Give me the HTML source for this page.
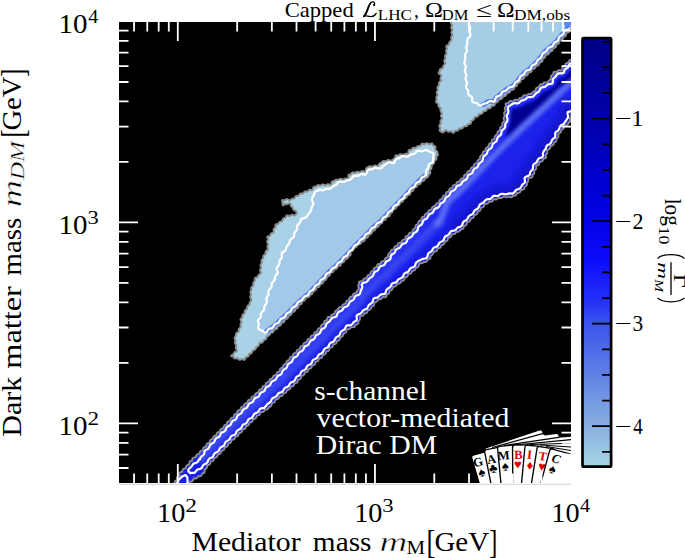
<!DOCTYPE html>
<html><head><meta charset="utf-8"><style>html,body{margin:0;padding:0;background:#fff;}svg{display:block;}</style></head><body>
<svg width="685" height="558" viewBox="0 0 685 558">
<defs>
<clipPath id="pc"><rect x="119" y="22" width="452" height="461"/></clipPath>
<filter id="bl" x="-20%" y="-20%" width="140%" height="140%"><feGaussianBlur stdDeviation="3"/></filter><filter id="bl2" x="-20%" y="-20%" width="140%" height="140%"><feGaussianBlur stdDeviation="2"/></filter><filter id="bl3" x="-20%" y="-20%" width="140%" height="140%"><feGaussianBlur stdDeviation="1.2"/></filter>
<linearGradient id="cb" x1="0" y1="0" x2="0" y2="1"><stop offset="0" stop-color="#000087"/><stop offset="0.188" stop-color="#0000a8"/><stop offset="0.308" stop-color="#0000c8"/><stop offset="0.427" stop-color="#0202e8"/><stop offset="0.517" stop-color="#0c0cfc"/><stop offset="0.611" stop-color="#2330f6"/><stop offset="0.664" stop-color="#3a52ee"/><stop offset="0.774" stop-color="#5c7ee4"/><stop offset="0.904" stop-color="#88aee0"/><stop offset="1" stop-color="#a8d6e4"/></linearGradient>
</defs>
<rect width="685" height="558" fill="#fff"/>
<rect x="119" y="22" width="452" height="461" fill="#000"/>
<path d="M117.5 484.4H571.2" stroke="#dcdcdc" stroke-width="1.1"/>
<g clip-path="url(#pc)">
<defs><path id="urcp" d="M452.0 10.0 L451.4 10.8 L450.9 11.6 L450.7 12.4 L450.8 13.2 L451.2 14.0 L451.8 14.8 L451.5 15.6 L451.0 16.4 L450.7 17.2 L450.8 18.0 L451.1 18.8 L451.7 19.6 L451.7 20.4 L451.1 21.2 L450.8 22.0 L450.8 22.8 L451.1 23.6 L451.7 24.3 L452.2 25.0 L451.7 25.9 L451.3 26.8 L451.2 27.6 L451.5 28.4 L452.0 29.1 L452.6 29.9 L452.1 30.7 L451.6 31.6 L451.4 32.4 L451.5 33.2 L451.9 34.0 L452.5 34.8 L452.2 35.6 L451.7 36.4 L451.2 37.1 L451.1 37.9 L451.2 38.8 L451.5 39.7 L451.3 40.5 L450.5 41.1 L449.9 41.8 L449.3 42.4 L449.1 43.1 L449.0 44.1 L448.7 44.9 L447.8 45.2 L446.9 45.5 L446.3 46.1 L446.2 46.8 L446.6 47.6 L447.3 48.4 L446.7 49.2 L446.2 50.0 L446.0 50.8 L446.1 51.6 L446.3 52.5 L446.7 53.4 L446.3 54.1 L445.6 54.8 L445.1 55.5 L445.0 56.3 L445.1 57.1 L445.5 58.0 L445.4 58.8 L444.7 59.4 L444.3 60.2 L444.2 61.0 L444.4 61.8 L444.9 62.6 L445.3 63.4 L444.6 64.2 L444.2 65.0 L443.6 65.6 L443.2 66.3 L442.9 67.2 L442.8 68.2 L442.0 68.5 L441.1 68.7 L440.3 69.1 L439.8 69.8 L439.7 70.5 L439.8 71.5 L439.3 72.1 L438.6 72.2 L438.7 73.1 L439.1 73.8 L439.8 74.3 L440.7 74.7 L441.3 75.3 L441.2 76.3 L440.8 77.3 L440.5 78.1 L440.5 78.9 L440.8 79.8 L441.1 80.9 L440.2 81.4 L439.5 82.0 L439.0 82.6 L438.8 83.4 L438.9 84.3 L439.1 85.3 L438.6 85.8 L437.9 86.4 L437.5 87.2 L437.4 88.0 L437.5 88.8 L437.9 89.7 L437.8 90.5 L437.2 91.1 L436.8 91.9 L436.7 92.7 L437.0 93.5 L437.4 94.3 L437.7 95.1 L437.1 95.9 L436.6 96.7 L436.4 97.5 L436.3 98.3 L436.6 99.2 L436.9 100.1 L436.1 100.7 L435.9 101.1 L436.1 101.9 L436.6 102.6 L437.3 103.1 L438.2 103.5 L438.4 104.3 L438.3 105.3 L438.4 106.1 L438.8 106.8 L439.4 107.4 L440.3 107.9 L440.7 108.7 L440.4 109.6 L440.4 110.5 L440.7 111.2 L441.1 112.0 L441.6 112.8 L442.1 113.6 L441.5 114.4 L441.1 115.2 L441.0 116.0 L441.2 116.8 L441.7 117.6 L442.3 118.4 L441.7 119.4 L441.0 120.0 L440.5 120.7 L440.4 121.5 L440.6 122.4 L440.9 123.4 L440.5 124.1 L439.8 124.7 L439.3 125.4 L439.3 126.2 L439.7 127.0 L440.2 127.8 L440.3 128.6 L439.8 129.4 L439.4 130.1 L439.8 130.8 L440.5 131.3 L441.4 131.6 L442.2 132.0 L441.6 132.2 L442.6 132.3 L443.4 132.2 L444.1 131.8 L444.7 131.1 L445.2 130.3 L446.5 130.4 L447.2 131.1 L447.9 131.6 L448.7 131.7 L449.6 131.6 L450.5 131.2 L451.3 131.3 L451.9 132.1 L452.6 132.6 L453.4 132.9 L454.0 132.6 L454.4 131.7 L454.8 130.8 L455.8 130.9 L456.7 130.9 L457.5 130.7 L458.2 130.2 L458.7 129.4 L459.1 128.5 L460.0 128.5 L461.0 128.7 L461.8 128.5 L462.5 128.1 L463.0 127.4 L463.5 126.5 L464.2 126.3 L465.2 126.4 L466.1 126.3 L466.8 126.0 L467.4 125.3 L467.8 124.5 L468.5 123.9 L469.4 124.1 L470.2 124.0 L470.7 123.4 L471.1 122.7 L471.2 121.7 L471.2 120.8 L472.2 120.5 L473.0 120.1 L473.7 119.6 L474.0 118.9 L474.4 118.0 L474.8 117.1 L475.6 116.9 L476.6 116.9 L477.4 116.6 L478.0 116.1 L478.5 115.4 L478.8 114.5 L479.5 114.0 L480.5 114.0 L481.3 113.9 L482.0 113.4 L482.5 112.8 L482.9 111.9 L483.4 111.2 L484.4 111.3 L485.3 111.1 L486.0 110.8 L486.5 110.2 L486.9 109.3 L487.3 108.4 L488.3 108.5 L489.2 108.4 L490.0 108.2 L490.6 107.7 L491.1 106.9 L491.4 105.9 L492.3 105.8 L493.3 105.8 L494.0 105.6 L494.5 105.0 L494.9 104.1 L495.0 103.2 L495.6 102.6 L496.6 102.5 L497.4 102.1 L498.0 101.6 L498.3 100.8 L498.7 99.9 L499.2 99.2 L500.2 99.2 L501.1 99.1 L501.8 98.7 L502.3 98.0 L502.7 97.2 L502.9 96.3 L503.9 96.3 L504.8 96.1 L505.5 95.7 L506.1 95.1 L506.4 94.3 L506.6 93.3 L507.4 93.0 L508.4 92.9 L509.2 92.6 L509.8 92.1 L510.2 91.3 L510.5 90.4 L511.2 89.9 L512.1 89.9 L513.0 89.7 L513.7 89.2 L514.1 88.5 L514.2 87.6 L514.5 86.8 L515.4 86.6 L516.3 86.2 L516.9 85.7 L517.2 84.9 L517.4 84.0 L517.5 83.0 L518.5 82.8 L519.4 82.5 L520.0 82.1 L520.5 81.4 L520.7 80.5 L520.9 79.5 L521.7 79.2 L522.6 79.0 L523.4 78.7 L524.0 78.1 L524.3 77.3 L524.5 76.3 L525.1 75.8 L526.1 75.7 L526.9 75.4 L527.5 74.9 L528.0 74.2 L528.2 73.2 L528.6 72.5 L529.6 72.4 L530.5 72.2 L531.2 71.7 L531.6 71.0 L531.9 70.2 L532.1 69.2 L533.1 69.1 L534.0 68.9 L534.7 68.5 L535.2 67.9 L535.6 67.1 L535.8 66.1 L536.6 65.8 L537.5 65.6 L538.3 65.3 L538.8 64.7 L539.1 63.9 L539.3 62.9 L539.9 62.4 L540.8 62.2 L541.6 61.9 L542.2 61.3 L542.6 60.6 L542.5 59.7 L542.7 58.9 L543.6 58.5 L544.4 58.0 L544.9 57.4 L545.3 56.7 L545.6 55.8 L545.8 54.8 L546.8 54.7 L547.7 54.5 L548.5 54.2 L549.0 53.5 L549.3 52.7 L549.5 51.7 L550.3 51.5 L551.2 51.3 L552.0 50.9 L552.5 50.3 L552.9 49.5 L553.0 48.5 L553.6 48.0 L554.6 47.8 L555.4 47.5 L555.9 47.0 L556.2 46.2 L556.3 45.2 L556.5 44.4 L557.5 44.1 L558.3 43.7 L558.9 43.2 L559.2 42.4 L559.4 41.4 L559.5 40.4 L560.6 40.3 L561.5 40.1 L562.2 39.7 L562.7 39.0 L562.9 38.2 L563.1 37.2 L563.7 36.9 L564.6 36.6 L565.4 36.1 L565.8 35.4 L566.0 34.6 L566.1 33.6 L566.6 33.0 L567.6 32.7 L568.4 32.4 L569.0 31.9 L569.4 31.2 L569.7 30.2 L570.1 29.4 L571.1 29.4 L572.0 29.2 L572.7 28.8 L573.1 28.1 L573.5 27.2 L573.7 26.2 L574.7 26.2 L575.6 26.1 L576.3 25.7 L576.8 25.0 L577.1 24.2 L577.2 23.2 L578.0 22.8 L578.9 22.6 L579.7 22.3 L580.0 21.6 L579.6 20.8 L579.1 20.0 L579.0 19.2 L579.6 18.4 L579.9 17.6 L580.0 16.8 L579.7 16.0 L579.2 15.2 L578.8 14.4 L579.4 13.6 L579.9 12.8 L580.0 12.0 L579.8 11.2 L579.4 10.4 L579.6 11.1 L578.8 10.9 L578.0 10.4 L577.2 10.0 L576.4 10.0 L575.6 10.4 L574.8 10.9 L574.0 11.1 L573.2 10.5 L572.4 10.1 L571.6 10.0 L570.8 10.2 L570.0 10.7 L569.2 11.2 L568.4 10.6 L567.6 10.2 L566.8 10.0 L566.0 10.2 L565.2 10.6 L564.4 11.2 L563.6 10.7 L562.8 10.2 L562.0 10.0 L561.2 10.1 L560.4 10.5 L559.6 11.1 L558.8 10.9 L558.0 10.4 L557.2 10.0 L556.4 10.0 L555.6 10.4 L554.8 10.9 L554.0 11.1 L553.2 10.5 L552.4 10.1 L551.6 10.0 L550.8 10.2 L550.0 10.7 L549.2 11.2 L548.4 10.6 L547.6 10.2 L546.8 10.0 L546.0 10.2 L545.2 10.6 L544.4 11.2 L543.6 10.7 L542.8 10.2 L542.0 10.0 L541.2 10.1 L540.4 10.5 L539.6 11.1 L538.8 10.9 L538.0 10.4 L537.2 10.0 L536.4 10.0 L535.6 10.4 L534.8 10.9 L534.0 11.1 L533.2 10.5 L532.4 10.1 L531.6 10.0 L530.8 10.2 L530.0 10.7 L529.2 11.2 L528.4 10.6 L527.6 10.2 L526.8 10.0 L526.0 10.2 L525.2 10.6 L524.4 11.2 L523.6 10.7 L522.8 10.2 L522.0 10.0 L521.2 10.1 L520.4 10.5 L519.6 11.1 L518.8 10.9 L518.0 10.4 L517.2 10.0 L516.4 10.0 L515.6 10.4 L514.8 10.9 L514.0 11.1 L513.2 10.5 L512.4 10.1 L511.6 10.0 L510.8 10.2 L510.0 10.7 L509.2 11.2 L508.4 10.6 L507.6 10.2 L506.8 10.0 L506.0 10.2 L505.2 10.6 L504.4 11.2 L503.6 10.7 L502.8 10.2 L502.0 10.0 L501.2 10.1 L500.4 10.5 L499.6 11.1 L498.8 10.9 L498.0 10.4 L497.2 10.0 L496.4 10.0 L495.6 10.4 L494.8 10.9 L494.0 11.1 L493.2 10.5 L492.4 10.1 L491.6 10.0 L490.8 10.2 L490.0 10.7 L489.2 11.2 L488.4 10.6 L487.6 10.2 L486.8 10.0 L486.0 10.2 L485.2 10.6 L484.4 11.2 L483.6 10.7 L482.8 10.2 L482.0 10.0 L481.2 10.1 L480.4 10.5 L479.6 11.1 L478.8 10.9 L478.0 10.4 L477.2 10.0 L476.4 10.0 L475.6 10.4 L474.8 10.9 L474.0 11.1 L473.2 10.5 L472.4 10.1 L471.6 10.0 L470.8 10.2 L470.0 10.7 L469.2 11.2 L468.4 10.6 L467.6 10.2 L466.8 10.0 L466.0 10.2 L465.2 10.6 L464.4 11.2 L463.6 10.7 L462.8 10.2 L462.0 10.0 L461.2 10.1 L460.4 10.5 L459.6 11.1 L458.8 10.9 L458.0 10.4 L457.2 10.0 L456.4 10.0 L455.6 10.4 L454.8 10.9 L454.0 11.1 L453.2 10.5 L452.4 10.1 L451.6 10.0 L450.8 10.2 Z"/></defs><use href="#urcp" fill="#a5cee6"/>
<clipPath id="urc"><use href="#urcp"/></clipPath>
<polyline points="481.5,105.2 485.1,103.8 487.9,101.6 493.7,101.6 495.8,98.0 499.4,95.2 503.7,91.6 506.6,89.3 510.9,87.2 513.8,85.0 517.0,81.5 521.0,76.5 525.0,72.2 529.3,69.3 533.6,65.0 537.9,60.7 541.5,56.0 545.0,51.5 549.3,47.9 553.6,44.3 557.2,40.7 559.1,37.9 562.9,33.6 565.6,30.4 568.8,27.7 570.7,26.1 576.0,21.0 580.0,10.0" fill="none" stroke="#3f63ee" stroke-width="5" stroke-linejoin="round" opacity="0.75" clip-path="url(#urc)"/>
<use href="#urcp" fill="none" stroke="#8c8c8c" stroke-width="1.9" stroke-linejoin="round"/>
<path d="M469.0 10.0 L469.4 10.9 L469.5 11.8 L469.5 12.7 L469.2 13.6 L468.8 14.5 L468.5 15.4 L468.5 16.3 L468.7 17.2 L469.0 18.1 L469.4 19.0 L469.5 19.9 L469.4 20.8 L469.1 21.7 L468.8 22.6 L468.6 23.6 L468.8 24.5 L469.1 25.3 L469.6 26.1 L470.1 27.0 L470.3 27.9 L470.3 28.8 L470.0 29.7 L469.8 30.7 L469.6 31.6 L469.7 32.5 L470.1 33.3 L470.5 34.2 L470.4 35.2 L470.1 36.1 L469.6 36.8 L468.9 37.5 L468.2 38.1 L467.6 38.9 L467.3 39.7 L467.2 40.7 L467.2 41.6 L467.3 42.4 L467.3 43.3 L467.2 44.2 L466.8 45.1 L466.5 46.0 L466.3 46.9 L466.3 47.8 L466.6 48.7 L466.8 49.6 L466.9 50.6 L466.8 51.5 L466.4 52.3 L465.9 53.1 L465.4 54.0 L465.0 54.8 L465.0 55.7 L465.1 56.7 L465.4 57.6 L465.5 58.5 L465.4 59.4 L465.1 60.2 L464.8 61.2 L464.5 62.1 L464.4 63.0 L464.6 63.9 L465.0 64.7 L465.4 65.6 L465.7 66.5 L465.7 67.4 L465.5 68.3 L465.2 69.2 L464.9 70.2 L464.9 71.1 L465.1 72.0 L465.5 72.8 L465.9 73.7 L466.3 74.6 L466.3 75.5 L466.1 76.4 L465.8 77.3 L465.6 78.2 L465.6 79.1 L465.9 80.0 L466.3 80.9 L466.7 81.8 L466.9 82.7 L466.9 83.6 L466.6 84.5 L466.3 85.4 L466.0 86.3 L466.0 87.2 L466.3 88.1 L466.9 88.9 L467.5 89.7 L468.0 90.5 L468.1 91.4 L468.1 92.3 L468.2 93.3 L468.5 94.2 L468.9 95.0 L469.5 95.6 L470.5 96.1 L471.3 96.5 L472.1 97.3 L472.3 98.2 L472.2 99.2 L472.1 100.1 L472.2 101.1 L472.8 102.1 L473.7 102.4 L474.6 102.6 L475.6 102.7 L476.4 103.1 L477.1 103.5 L477.8 104.1 L478.6 104.7 L479.4 105.2 L480.3 105.4 L481.2 105.4 L482.1 104.8 L482.8 104.2 L483.6 103.8 L484.5 103.6 L485.4 103.5 L486.3 103.2 L487.2 102.9 L487.9 102.3 L488.3 101.8 L489.2 101.5 L490.1 101.2 L491.0 101.1 L491.9 101.2 L492.8 101.6 L494.0 101.7 L494.6 101.1 L495.1 100.3 L495.3 99.3 L495.4 98.4 L495.8 97.4 L496.5 96.8 L497.3 96.4 L498.2 96.1 L499.2 95.8 L500.0 95.4 L500.6 94.8 L501.1 94.0 L501.6 93.1 L502.1 92.3 L502.7 91.7 L503.6 91.3 L504.5 91.0 L505.4 90.7 L506.2 90.3 L506.8 89.7 L507.5 89.0 L508.1 88.3 L508.8 87.7 L509.6 87.2 L510.5 87.1 L511.4 86.9 L512.4 86.6 L513.2 86.2 L513.8 85.5 L514.3 84.6 L514.6 83.7 L515.0 82.9 L515.6 82.2 L516.4 81.7 L517.3 81.3 L518.1 80.8 L518.8 80.2 L519.2 79.4 L519.5 78.5 L519.8 77.5 L520.2 76.7 L520.8 76.0 L521.6 75.5 L522.5 75.1 L523.3 74.7 L524.0 74.1 L524.5 73.3 L524.8 72.4 L525.4 71.5 L526.0 70.9 L526.8 70.4 L527.7 70.2 L528.6 70.0 L529.6 69.7 L530.3 69.1 L530.8 68.3 L531.2 67.4 L531.6 66.5 L532.1 65.7 L532.8 65.2 L533.6 64.8 L534.5 64.4 L535.4 63.9 L536.0 63.3 L536.5 62.5 L536.9 61.6 L537.3 60.8 L537.7 60.0 L538.4 59.4 L539.2 58.9 L540.0 58.4 L540.8 57.8 L541.3 57.1 L541.6 56.2 L541.9 55.3 L542.2 54.4 L542.7 53.6 L543.3 53.0 L544.2 52.5 L545.0 52.0 L545.7 51.6 L546.4 51.0 L546.9 50.2 L547.4 49.3 L547.8 48.5 L548.5 47.9 L549.3 47.4 L550.2 47.1 L551.1 46.8 L551.9 46.4 L552.6 45.8 L553.1 45.0 L553.5 44.1 L554.0 43.3 L554.5 42.6 L555.3 42.1 L556.2 41.7 L557.1 41.3 L557.9 40.7 L558.3 39.9 L558.6 39.0 L558.7 38.0 L559.1 37.1 L559.7 36.4 L560.5 35.9 L561.3 35.5 L562.2 35.0 L562.9 34.4 L563.4 33.7 L563.7 32.8 L564.0 31.8 L564.4 31.0 L565.0 30.3 L565.9 29.8 L566.8 29.5 L567.7 29.2 L568.5 28.7 L569.1 28.0 L569.5 27.2 L570.0 26.3 L570.5 25.6 L571.2 25.0 L572.0 24.5 L572.9 24.2 L573.8 23.8 L574.5 23.2 L575.0 22.5 L575.4 21.6 L575.7 20.8 L575.8 19.9 L576.2 19.1 L576.8 18.3 L577.4 17.6 L578.0 16.9 L578.4 16.1 L578.5 15.1 L578.5 14.2 L578.4 13.2 L578.6 12.3 L579.0 11.5 L579.6 10.7 L580.0 9.8 L579.1 9.5 L578.2 9.5 L577.3 9.7 L576.4 10.0 L575.5 10.4 L574.6 10.5 L573.7 10.5 L572.8 10.1 L571.9 9.8 L571.0 9.5 L570.1 9.5 L569.2 9.7 L568.3 10.1 L567.4 10.4 L566.5 10.5 L565.6 10.4 L564.7 10.1 L563.8 9.7 L562.9 9.5 L562.0 9.5 L561.1 9.7 L560.2 10.1 L559.3 10.4 L558.4 10.5 L557.5 10.4 L556.6 10.1 L555.7 9.7 L554.8 9.5 L553.9 9.5 L553.0 9.8 L552.1 10.2 L551.2 10.5 L550.3 10.5 L549.4 10.4 L548.5 10.0 L547.6 9.6 L546.7 9.5 L545.8 9.5 L544.9 9.8 L544.0 10.2 L543.1 10.5 L542.2 10.5 L541.3 10.3 L540.4 10.0 L539.5 9.6 L538.6 9.5 L537.7 9.5 L536.8 9.9 L535.9 10.2 L535.0 10.5 L534.1 10.5 L533.2 10.3 L532.3 9.9 L531.4 9.6 L530.5 9.5 L529.6 9.6 L528.7 9.9 L527.8 10.3 L526.9 10.5 L526.0 10.5 L525.1 10.3 L524.2 9.9 L523.3 9.6 L522.4 9.5 L521.5 9.6 L520.6 9.9 L519.7 10.3 L518.8 10.5 L517.9 10.5 L517.0 10.2 L516.1 9.8 L515.2 9.5 L514.3 9.5 L513.4 9.6 L512.5 10.0 L511.6 10.4 L510.7 10.5 L509.8 10.5 L508.9 10.2 L508.0 9.8 L507.1 9.5 L506.2 9.5 L505.3 9.7 L504.4 10.0 L503.5 10.4 L502.6 10.5 L501.7 10.5 L500.8 10.1 L499.9 9.8 L499.0 9.5 L498.1 9.5 L497.2 9.7 L496.3 10.1 L495.4 10.4 L494.5 10.5 L493.6 10.4 L492.7 10.1 L491.8 9.7 L490.9 9.5 L490.0 9.5 L489.1 9.7 L488.2 10.1 L487.3 10.4 L486.4 10.5 L485.5 10.4 L484.6 10.1 L483.7 9.7 L482.8 9.5 L481.9 9.5 L481.0 9.8 L480.1 10.2 L479.2 10.5 L478.3 10.5 L477.4 10.4 L476.5 10.0 L475.6 9.6 L474.7 9.5 L473.8 9.5 L472.9 9.8 L472.0 10.2 L471.1 10.5 L470.2 10.5 L469.3 10.3 Z" fill="none" stroke="#fff" stroke-width="2.2" stroke-linejoin="round"/>
<polygon points="563,22 571,22 571,27 566.5,29" fill="#4a70ee" opacity="0.75"/>
<defs><path id="llcp" d="M437.1 154.4 L437.3 153.4 L437.4 152.5 L437.2 151.7 L436.8 151.0 L436.0 150.5 L435.2 149.8 L435.2 149.0 L435.5 148.0 L435.5 147.2 L435.2 146.4 L434.7 146.0 L433.7 145.9 L433.0 145.4 L432.8 144.5 L432.4 143.7 L431.8 143.4 L431.0 143.6 L430.1 144.0 L429.3 144.4 L428.5 143.8 L427.8 143.3 L427.0 143.1 L426.2 143.2 L425.5 143.7 L424.8 144.4 L423.9 144.0 L423.1 143.7 L422.2 143.6 L421.5 143.8 L421.1 144.6 L420.8 145.6 L420.1 145.9 L419.1 145.9 L418.2 146.1 L417.5 146.3 L416.8 146.9 L416.2 147.6 L415.5 148.0 L414.5 147.7 L413.7 147.7 L412.9 147.9 L412.3 148.5 L411.8 149.2 L411.2 150.0 L410.2 149.7 L409.4 149.6 L408.8 150.2 L408.5 151.0 L408.5 151.9 L408.5 152.9 L407.7 153.3 L406.8 153.7 L405.9 153.7 L405.1 153.8 L404.3 154.3 L403.6 154.9 L402.8 154.9 L401.9 154.4 L401.1 154.1 L400.3 154.2 L399.5 154.6 L398.8 155.2 L398.4 155.6 L397.4 155.4 L396.5 155.3 L395.8 155.5 L395.3 156.0 L395.3 156.9 L395.4 157.9 L394.5 158.3 L393.7 158.8 L393.2 159.4 L392.5 159.8 L391.8 160.3 L391.0 160.9 L390.2 160.7 L389.4 160.2 L388.5 160.0 L387.8 160.1 L387.0 160.5 L386.4 161.1 L385.7 161.4 L384.7 161.0 L383.9 160.9 L383.1 161.1 L382.4 161.5 L381.8 162.2 L381.8 162.9 L380.8 163.0 L379.9 163.3 L379.3 163.7 L378.8 164.4 L378.6 165.3 L377.6 166.4 L376.7 166.0 L375.9 165.6 L375.1 165.5 L374.3 165.6 L373.5 166.1 L372.8 166.8 L372.0 166.7 L371.1 166.3 L370.3 166.1 L369.5 166.2 L368.8 166.6 L368.0 167.3 L368.1 167.1 L367.2 167.5 L366.5 168.0 L366.0 168.7 L365.9 169.5 L365.9 170.4 L365.0 171.9 L364.1 171.4 L363.2 171.0 L362.4 170.9 L361.6 171.2 L360.9 171.7 L360.2 172.4 L359.3 172.2 L358.5 171.8 L357.6 171.6 L356.9 171.8 L356.1 172.2 L355.4 172.9 L354.6 173.0 L353.7 172.5 L352.9 172.3 L352.2 172.6 L351.6 173.2 L351.1 174.0 L350.5 174.7 L349.5 174.5 L348.8 174.5 L348.4 175.2 L348.3 176.0 L348.4 176.9 L348.7 177.9 L347.9 178.4 L346.6 178.6 L345.7 178.4 L345.0 178.6 L344.2 179.0 L343.4 179.6 L342.6 179.5 L341.8 179.1 L341.0 178.8 L340.2 178.9 L339.4 179.2 L338.6 179.8 L338.1 180.0 L337.2 179.7 L336.3 179.6 L335.5 179.8 L334.8 180.2 L334.2 181.0 L333.6 181.6 L332.6 181.3 L332.1 181.4 L331.7 182.0 L331.5 182.8 L331.5 183.7 L330.6 185.1 L329.8 184.9 L329.0 184.4 L328.1 184.2 L327.3 184.2 L326.6 184.6 L325.8 185.2 L325.0 185.3 L324.2 184.8 L323.4 184.5 L322.6 184.5 L321.8 184.8 L321.0 185.3 L320.2 185.8 L319.5 185.3 L318.6 185.1 L317.8 185.2 L317.1 185.5 L316.4 186.2 L315.8 187.0 L314.9 186.6 L314.3 186.6 L313.6 187.1 L313.2 187.7 L313.0 188.6 L312.4 189.9 L311.6 190.0 L310.7 189.7 L309.8 189.7 L309.1 190.0 L308.4 190.5 L307.8 191.3 L307.2 191.7 L306.2 191.5 L305.4 191.4 L304.6 191.7 L303.9 192.2 L303.4 193.0 L302.8 193.7 L301.9 193.4 L301.0 193.4 L300.2 193.7 L299.6 194.2 L299.2 195.0 L298.8 195.9 L297.8 195.9 L296.9 195.9 L296.1 196.1 L295.5 196.6 L295.0 197.3 L294.7 198.3 L293.9 198.6 L293.0 198.6 L292.1 198.8 L291.5 199.2 L290.7 199.7 L289.8 200.2 L289.0 200.3 L288.3 199.7 L287.5 199.2 L286.7 199.0 L286.0 199.3 L285.3 199.9 L284.6 200.6 L283.7 200.2 L282.8 199.9 L282.2 200.1 L282.1 200.9 L282.3 201.8 L282.6 202.7 L282.6 202.7 L282.4 203.7 L282.5 204.5 L282.9 205.3 L283.2 205.5 L283.8 204.7 L284.3 204.0 L285.3 204.3 L286.2 204.4 L287.0 204.2 L287.8 204.0 L288.6 203.6 L289.4 203.0 L290.2 203.5 L290.8 204.8 L290.9 205.6 L291.2 206.3 L291.9 206.9 L292.7 207.4 L292.8 207.8 L293.0 208.8 L293.3 209.6 L293.9 210.2 L294.7 210.5 L295.6 210.7 L296.4 211.3 L296.4 212.3 L296.5 213.2 L296.8 213.9 L296.0 214.3 L295.3 214.9 L294.6 215.6 L293.7 215.2 L292.9 214.9 L292.0 214.8 L291.3 215.0 L290.5 215.5 L289.8 216.2 L289.0 216.0 L288.1 215.6 L287.3 215.4 L286.5 215.5 L286.1 216.2 L286.0 217.2 L285.4 217.8 L284.5 217.9 L283.6 218.3 L283.0 218.8 L282.7 219.5 L282.4 220.5 L282.1 221.3 L281.1 221.4 L280.3 221.6 L279.5 222.0 L278.9 222.6 L278.4 223.4 L278.0 224.3 L277.1 224.2 L276.1 224.2 L275.7 224.7 L275.4 225.4 L275.4 226.3 L275.6 227.3 L275.0 227.9 L274.2 228.4 L273.7 229.1 L273.5 229.8 L273.6 230.7 L273.8 231.6 L273.7 232.4 L272.4 233.0 L271.5 233.2 L270.9 233.7 L270.5 234.4 L270.2 235.3 L269.8 236.1 L268.8 236.2 L267.9 236.4 L267.2 236.8 L267.3 237.5 L267.7 238.3 L268.3 239.1 L267.9 239.9 L267.4 240.7 L267.1 241.5 L267.2 242.3 L267.6 243.1 L268.2 243.8 L268.2 244.6 L267.7 245.5 L267.4 246.3 L267.5 247.1 L267.8 247.9 L268.0 249.1 L267.8 249.9 L266.9 250.3 L266.2 250.8 L265.7 251.4 L265.5 252.2 L265.5 253.2 L265.6 254.1 L264.7 254.5 L263.9 255.0 L263.4 255.7 L263.2 256.4 L263.2 257.3 L263.4 258.3 L262.8 258.8 L262.1 259.4 L261.6 260.1 L261.5 260.9 L261.6 261.8 L261.9 262.7 L261.6 263.4 L260.9 264.0 L260.6 264.7 L260.5 265.5 L260.7 266.4 L261.2 267.2 L261.3 268.0 L260.7 268.8 L260.2 269.5 L260.1 270.3 L260.2 271.1 L260.7 272.0 L261.1 272.8 L260.4 273.6 L259.5 274.3 L258.8 274.6 L258.3 275.3 L257.9 276.1 L257.7 277.1 L256.9 277.4 L256.0 277.5 L255.2 277.9 L254.7 278.5 L254.7 279.2 L255.0 280.2 L254.8 280.9 L254.1 281.6 L253.5 282.2 L253.3 283.0 L253.3 283.8 L253.5 284.9 L253.4 285.7 L252.5 286.2 L251.8 286.7 L251.3 287.4 L251.1 288.2 L251.2 289.1 L251.7 289.7 L251.1 290.4 L250.6 291.2 L250.3 292.0 L250.4 292.8 L250.7 293.6 L251.2 294.4 L251.0 295.1 L250.5 295.9 L250.3 296.7 L250.3 297.5 L250.7 298.3 L251.3 299.1 L251.4 299.9 L250.9 300.7 L250.3 301.5 L249.8 302.2 L249.6 303.0 L249.6 303.9 L249.6 304.8 L248.6 305.2 L247.9 305.6 L247.3 306.3 L247.1 307.0 L247.0 308.0 L247.2 308.9 L246.4 309.4 L245.6 309.8 L245.0 310.4 L244.7 311.2 L244.7 312.1 L244.8 313.1 L244.2 313.7 L243.4 314.1 L242.7 314.7 L242.3 315.4 L242.2 316.2 L242.3 317.2 L242.0 317.9 L241.1 318.4 L240.6 318.9 L240.5 319.7 L240.8 320.5 L241.3 321.3 L241.7 322.1 L241.1 322.9 L240.7 323.7 L240.5 324.5 L240.5 325.3 L240.6 326.2 L240.9 327.2 L240.1 327.8 L239.4 328.3 L238.8 328.9 L238.6 329.7 L238.6 330.6 L238.7 331.7 L238.1 332.3 L237.2 332.6 L236.5 333.1 L236.1 333.8 L235.9 334.6 L235.9 335.6 L235.9 336.0 L235.2 336.7 L234.7 337.4 L234.5 338.2 L234.7 339.0 L235.1 339.9 L235.6 340.4 L235.2 341.3 L234.9 342.1 L234.9 342.9 L235.2 343.7 L235.7 344.4 L236.5 345.1 L236.2 346.0 L235.8 346.8 L235.7 347.7 L235.8 348.5 L236.3 349.2 L237.0 349.9 L236.7 351.6 L235.7 351.6 L234.8 351.9 L234.2 352.4 L233.8 353.1 L233.5 354.0 L233.0 354.7 L232.3 354.7 L231.6 355.2 L231.2 355.9 L231.1 356.4 L232.0 356.4 L233.0 356.3 L233.5 357.1 L233.9 357.9 L234.6 358.4 L235.4 358.6 L236.2 358.4 L237.2 358.1 L237.9 358.6 L238.5 359.3 L239.2 359.7 L240.0 359.8 L240.8 359.5 L241.6 359.0 L242.4 358.9 L243.2 359.6 L244.0 360.0 L244.6 359.7 L245.1 359.0 L245.3 358.1 L245.6 357.2 L246.6 357.1 L247.5 356.9 L248.2 356.5 L248.6 355.9 L248.9 355.0 L249.0 354.0 L249.9 353.7 L250.8 353.5 L251.5 353.1 L252.0 352.5 L252.3 351.6 L252.5 350.7 L253.1 350.2 L254.1 350.0 L254.9 349.7 L255.5 349.1 L255.9 348.4 L256.1 347.4 L256.3 346.8 L257.3 346.5 L258.1 346.1 L258.6 345.5 L258.9 344.8 L259.2 343.7 L259.6 342.8 L260.6 342.9 L261.5 342.8 L262.3 342.5 L262.9 341.9 L263.3 341.1 L263.6 340.2 L264.2 340.0 L265.1 339.7 L265.8 339.3 L266.2 338.6 L266.5 337.8 L266.5 336.8 L267.1 336.2 L268.0 336.0 L268.9 335.6 L269.5 335.1 L269.9 334.4 L270.2 333.5 L270.7 332.8 L271.6 332.7 L272.5 332.5 L273.2 332.0 L273.6 331.3 L273.9 330.4 L274.2 329.5 L275.2 329.4 L276.1 329.2 L276.8 328.9 L277.3 328.2 L277.6 327.4 L277.7 326.4 L278.6 326.1 L279.5 325.9 L280.3 325.5 L280.8 324.9 L281.1 324.1 L281.3 323.2 L281.9 322.6 L282.9 322.5 L283.7 322.2 L284.2 321.6 L284.6 320.8 L284.8 319.9 L285.2 319.1 L286.2 319.0 L287.0 318.7 L287.6 318.2 L288.0 317.5 L288.3 316.6 L288.4 315.6 L289.4 315.5 L290.3 315.2 L291.0 314.8 L291.5 314.1 L291.8 313.3 L291.9 312.3 L292.7 312.0 L293.7 311.8 L294.4 311.4 L295.0 310.8 L295.3 310.0 L295.4 309.0 L296.0 308.6 L296.9 308.3 L297.7 307.9 L298.2 307.3 L298.5 306.5 L298.7 305.6 L299.0 304.8 L300.0 304.6 L300.8 304.2 L301.4 303.7 L301.8 303.0 L302.0 302.0 L302.1 301.1 L303.1 300.9 L304.0 300.7 L304.7 300.3 L305.2 299.6 L305.5 298.7 L305.6 297.7 L306.7 297.3 L307.6 297.4 L308.4 297.3 L309.1 296.9 L309.7 296.2 L309.6 295.4 L310.2 294.8 L311.1 294.5 L311.9 294.1 L312.4 293.5 L312.7 292.7 L312.9 291.7 L313.3 291.0 L314.2 290.8 L315.1 290.5 L315.7 290.0 L316.2 289.3 L316.4 288.4 L316.5 287.4 L317.5 287.3 L318.4 287.1 L319.1 286.7 L319.6 286.0 L319.9 285.1 L320.0 284.2 L320.9 283.8 L321.8 283.7 L322.6 283.3 L323.1 282.7 L323.4 281.9 L323.6 280.9 L324.1 280.4 L325.0 280.1 L325.8 279.8 L326.3 279.2 L326.6 278.4 L326.7 277.4 L327.0 276.6 L328.0 276.4 L328.8 276.0 L329.5 275.5 L329.9 274.8 L330.1 273.9 L330.3 272.9 L331.3 272.8 L332.2 272.6 L332.9 272.1 L333.3 271.5 L333.6 270.6 L333.7 269.6 L334.6 269.3 L335.6 269.2 L336.4 268.8 L336.9 268.3 L337.3 267.5 L337.5 266.5 L338.2 266.0 L339.1 265.9 L340.0 265.7 L340.6 265.2 L340.9 264.4 L341.1 263.5 L341.5 262.7 L342.5 262.6 L343.3 262.3 L344.0 261.8 L344.4 261.1 L344.6 260.2 L344.8 259.2 L345.9 259.0 L346.8 258.9 L347.5 258.5 L348.0 257.9 L348.4 257.1 L348.6 256.1 L349.5 255.9 L350.0 255.7 L350.5 255.0 L350.7 254.2 L350.6 253.3 L350.3 252.4 L350.6 251.7 L351.7 251.1 L352.5 250.8 L353.1 250.2 L353.5 249.5 L353.7 248.5 L354.1 247.7 L355.0 247.6 L355.9 247.3 L356.5 246.8 L357.0 246.1 L357.3 245.3 L357.6 244.3 L358.6 244.3 L359.6 244.2 L360.3 243.9 L360.9 243.3 L361.3 242.5 L361.6 241.5 L362.4 241.3 L363.3 241.3 L364.1 240.9 L364.6 240.3 L364.9 239.5 L365.1 238.5 L365.7 238.0 L366.6 237.8 L367.4 237.5 L368.0 236.9 L368.4 236.2 L368.6 235.2 L368.9 234.5 L369.9 234.3 L370.8 234.0 L371.4 233.6 L371.9 232.9 L372.1 232.0 L372.2 231.0 L373.2 230.8 L374.1 230.6 L374.8 230.2 L375.3 229.5 L375.6 228.7 L375.7 227.7 L376.5 227.3 L377.5 227.1 L378.2 226.8 L378.7 226.2 L379.1 225.3 L379.2 224.4 L379.8 223.8 L380.8 223.7 L381.6 223.3 L382.2 222.8 L382.5 222.0 L382.7 221.1 L383.1 220.3 L384.1 220.2 L384.9 219.9 L385.6 219.4 L386.0 218.7 L386.3 217.8 L386.5 216.8 L387.5 216.8 L388.5 216.6 L389.2 216.3 L389.7 215.7 L389.8 214.8 L389.7 213.8 L390.4 213.3 L391.3 212.9 L392.0 212.4 L392.4 211.7 L392.7 210.9 L392.9 209.9 L393.4 209.4 L394.4 209.2 L395.2 208.9 L395.8 208.4 L396.2 207.6 L396.4 206.7 L396.7 205.9 L397.7 205.7 L398.6 205.4 L399.2 205.0 L399.6 204.2 L399.9 203.3 L400.0 202.3 L401.0 202.2 L401.9 202.0 L402.6 201.5 L403.1 200.9 L403.3 200.0 L403.5 199.0 L404.3 198.7 L405.2 198.5 L406.0 198.1 L406.5 197.5 L406.8 196.7 L407.0 195.8 L407.6 195.2 L408.5 195.1 L409.4 194.7 L410.0 194.2 L410.3 193.4 L410.4 192.5 L410.7 191.7 L411.7 191.5 L412.5 191.1 L413.1 190.6 L413.5 189.9 L413.6 188.9 L413.7 187.9 L414.7 187.7 L415.6 187.4 L416.4 187.1 L416.9 186.5 L417.2 185.6 L417.5 184.7 L418.3 184.4 L419.2 184.3 L420.0 184.0 L420.6 183.4 L421.0 182.6 L421.2 181.7 L421.8 181.2 L422.8 181.1 L423.6 180.8 L424.3 180.3 L424.7 179.6 L425.0 178.7 L425.4 177.9 L426.4 177.8 L427.2 177.6 L427.8 177.1 L428.3 176.4 L428.5 175.5 L428.3 174.9 L429.1 174.4 L429.9 173.8 L430.3 173.1 L430.3 172.3 L430.1 171.4 L429.7 170.5 L430.2 169.8 L430.9 169.2 L431.4 168.4 L431.6 167.7 L431.6 166.8 L431.4 165.8 L431.7 165.1 L432.5 164.6 L433.3 164.0 L433.8 163.4 L434.1 162.6 L434.1 161.7 L434.2 161.0 L435.1 160.5 L435.8 160.0 L436.3 159.3 L436.5 158.5 L436.4 157.6 L436.1 156.9 L436.9 156.2 L437.6 155.6 L438.0 154.9 L438.1 154.1 Z"/></defs><use href="#llcp" fill="#aad2e6"/>
<clipPath id="llc"><use href="#llcp"/></clipPath>
<polygon points="320.0,189.4 316.9,190.5 314.5,193.7 312.1,196.9 312.9,202.6 312.1,208.2 309.7,211.5 308.9,214.7 305.6,217.1 301.6,219.5 299.6,222.0 296.9,228.1 293.7,236.1 288.9,242.6 286.5,248.2 282.4,253.1 280.8,258.7 279.5,263.0 277.9,265.6 277.1,268.1 277.1,273.7 273.9,280.2 271.5,285.8 269.0,290.6 267.4,296.3 265.5,305.6 261.5,313.7 258.3,321.0 258.3,327.4 260.7,330.6 265.5,332.3 268.7,329.8 271.5,327.9 277.9,322.3 283.5,317.4 288.4,312.6 294.0,306.9 299.7,301.3 305.3,296.5 309.0,293.3 313.1,288.7 317.9,283.9 322.7,279.0 328.4,272.6 334.0,267.7 339.7,262.1 345.3,256.5 349.0,252.8 352.3,248.7 357.9,243.1 363.5,237.4 369.2,231.8 374.8,226.1 380.5,221.3 386.1,215.6 389.5,212.0 393.1,207.9 398.7,202.3 404.4,196.6 410.0,190.2 415.6,184.5 421.3,178.9 425.5,175.0 427.2,168.8 428.7,165.2 432.2,162.4 433.7,158.1 433.0,153.8 429.4,150.9 425.1,150.5 420.8,150.9 416.5,151.6 413.6,153.8 409.3,155.9 405.0,156.5 400.8,156.8 397.3,158.6 393.7,162.6 386.5,162.9 382.2,167.9 374.3,168.3 369.3,169.4 365.0,174.5 360.1,174.7 353.7,176.5 348.0,180.8 338.6,182.2 332.9,187.2 324.3,190.1" fill="#a2cae8" clip-path="url(#llc)"/>
<polyline points="265.5,332.3 268.7,329.8 271.5,327.9 277.9,322.3 283.5,317.4 288.4,312.6 294.0,306.9 299.7,301.3 305.3,296.5 309.0,293.3 313.1,288.7 317.9,283.9 322.7,279.0 328.4,272.6 334.0,267.7 339.7,262.1 345.3,256.5 349.0,252.8 352.3,248.7 357.9,243.1 363.5,237.4 369.2,231.8 374.8,226.1 380.5,221.3 386.1,215.6 389.5,212.0 393.1,207.9 398.7,202.3 404.4,196.6 410.0,190.2 415.6,184.5 421.3,178.9 425.5,175.0" fill="none" stroke="#3f63ee" stroke-width="5" stroke-linejoin="round" opacity="0.75" clip-path="url(#llc)"/>
<use href="#llcp" fill="none" stroke="#8c8c8c" stroke-width="1.9" stroke-linejoin="round"/>
<path d="M320.0 189.4 L319.3 190.0 L318.5 190.5 L317.6 190.7 L316.9 190.9 L316.0 191.4 L315.2 191.9 L314.7 192.6 L314.3 193.4 L314.0 194.4 L313.8 195.3 L313.4 196.1 L312.8 196.8 L312.3 197.3 L312.1 198.2 L311.9 199.2 L312.0 200.1 L312.3 200.9 L312.8 201.8 L313.3 202.7 L313.3 203.6 L313.1 204.5 L312.6 205.3 L312.1 206.2 L311.8 207.0 L311.6 207.9 L311.5 208.6 L311.2 209.5 L311.0 210.5 L310.5 211.3 L310.1 211.8 L309.5 212.6 L308.9 213.4 L308.5 214.2 L308.2 214.6 L307.6 215.3 L307.1 216.1 L306.5 216.9 L305.8 217.6 L305.0 217.9 L304.1 218.1 L303.1 218.3 L302.2 218.5 L301.4 219.0 L300.9 219.9 L300.7 220.9 L300.3 221.8 L300.0 222.5 L299.5 223.2 L298.8 223.9 L298.1 224.6 L297.5 225.3 L297.2 226.2 L297.1 227.1 L297.1 228.1 L297.0 229.0 L296.8 229.9 L296.3 230.6 L295.6 231.4 L294.9 232.1 L294.4 232.8 L294.2 233.7 L294.1 234.6 L294.1 235.6 L293.9 236.6 L293.4 237.4 L292.7 238.0 L291.9 238.5 L291.1 239.0 L290.4 239.6 L290.0 240.4 L289.7 241.3 L289.5 242.3 L289.2 243.1 L288.9 243.9 L288.3 244.6 L287.6 245.3 L287.0 246.0 L286.5 246.8 L286.3 247.7 L286.1 248.5 L285.8 249.5 L285.4 250.3 L284.8 251.0 L284.1 251.5 L283.2 252.0 L282.4 252.5 L281.8 253.4 L281.7 254.3 L281.7 255.2 L281.8 256.2 L281.8 257.1 L281.5 258.0 L281.0 258.8 L280.4 259.5 L279.8 260.3 L279.5 261.1 L279.4 262.0 L279.5 263.0 L279.3 264.0 L279.0 264.8 L278.5 265.6 L277.9 266.2 L277.3 266.9 L276.7 267.7 L276.6 268.7 L276.8 269.6 L277.1 270.5 L277.5 271.4 L277.6 272.3 L277.6 273.2 L277.1 274.2 L276.3 274.8 L275.7 275.5 L275.2 276.3 L275.0 277.2 L275.0 278.1 L274.9 279.1 L274.6 280.0 L274.2 280.7 L273.5 281.4 L272.8 282.1 L272.2 282.8 L271.9 283.7 L271.7 284.6 L271.7 285.6 L271.6 286.5 L271.3 287.4 L270.8 288.1 L270.0 288.8 L269.3 289.4 L268.7 290.1 L268.4 291.0 L268.4 292.0 L268.5 292.9 L268.5 293.9 L268.4 294.8 L268.0 295.6 L267.4 296.4 L266.9 297.2 L266.5 298.0 L266.4 298.9 L266.5 299.8 L266.7 300.8 L266.8 301.7 L266.7 302.6 L266.3 303.5 L265.8 304.3 L265.2 305.1 L264.8 305.8 L264.5 306.6 L264.3 307.6 L264.3 308.5 L264.1 309.5 L263.8 310.3 L263.2 311.0 L262.5 311.6 L261.8 312.3 L261.2 313.0 L260.9 313.9 L260.8 314.9 L260.8 315.8 L260.7 316.8 L260.4 317.6 L259.8 318.3 L259.1 319.0 L258.4 319.7 L257.9 320.5 L257.9 321.6 L258.2 322.5 L258.6 323.4 L258.8 324.3 L258.8 325.2 L258.6 326.1 L258.2 327.0 L258.2 328.0 L258.7 328.8 L259.3 329.5 L260.1 330.0 L260.9 330.3 L261.8 330.4 L262.6 330.7 L263.4 331.3 L264.1 332.0 L264.8 332.6 L266.1 332.5 L266.8 331.8 L267.3 331.0 L267.7 330.2 L268.3 329.4 L269.1 328.9 L270.0 328.6 L270.9 328.4 L271.9 328.2 L272.6 327.6 L273.2 326.9 L273.6 326.1 L274.1 325.2 L274.6 324.4 L275.3 323.9 L276.2 323.5 L277.1 323.2 L278.0 322.8 L278.7 322.3 L279.3 321.6 L279.7 320.7 L280.2 319.8 L280.7 319.1 L281.4 318.6 L282.3 318.2 L283.3 317.9 L284.1 317.5 L284.8 316.9 L285.3 316.1 L285.7 315.2 L286.1 314.3 L286.6 313.6 L287.3 313.0 L288.2 312.6 L289.1 312.3 L289.9 311.8 L290.5 311.2 L291.0 310.4 L291.4 309.4 L291.8 308.6 L292.3 307.8 L293.0 307.3 L293.9 306.9 L294.8 306.5 L295.6 306.1 L296.2 305.4 L296.7 304.6 L297.1 303.7 L297.5 302.8 L298.1 302.1 L298.8 301.6 L299.7 301.2 L300.6 300.9 L301.4 300.5 L302.1 299.9 L302.6 299.1 L303.0 298.2 L303.5 297.4 L304.2 296.8 L305.0 296.3 L305.9 296.0 L306.8 295.7 L307.6 295.2 L308.2 294.6 L308.7 293.8 L309.1 292.9 L309.5 292.0 L310.0 291.3 L310.8 290.8 L311.7 290.4 L312.5 289.9 L313.3 289.4 L313.8 288.6 L314.2 287.8 L314.6 286.9 L315.0 286.1 L315.6 285.4 L316.4 285.0 L317.3 284.6 L318.2 284.2 L318.9 283.6 L319.5 282.9 L319.9 282.0 L320.2 281.1 L320.7 280.3 L321.3 279.7 L322.2 279.2 L323.0 278.8 L323.9 278.4 L324.5 277.7 L325.0 277.0 L325.4 276.1 L325.7 275.1 L326.1 274.3 L326.8 273.7 L327.6 273.2 L328.5 272.8 L329.3 272.4 L330.0 271.9 L330.6 271.2 L331.0 270.3 L331.5 269.4 L332.0 268.7 L332.8 268.2 L333.6 267.8 L334.5 267.5 L335.4 267.0 L336.1 266.4 L336.5 265.6 L336.9 264.8 L337.3 263.9 L337.9 263.1 L338.6 262.6 L339.4 262.2 L340.3 261.8 L341.2 261.4 L341.8 260.7 L342.3 259.9 L342.6 259.0 L343.0 258.2 L343.6 257.4 L344.3 256.9 L345.2 256.5 L346.1 256.1 L346.9 255.6 L347.5 255.0 L348.0 254.2 L348.3 253.3 L348.7 252.4 L349.2 251.7 L349.9 251.1 L350.7 250.6 L351.6 250.1 L352.3 249.5 L352.8 248.9 L353.3 248.0 L353.6 247.1 L354.0 246.3 L354.6 245.6 L355.4 245.1 L356.3 244.7 L357.2 244.3 L358.0 243.8 L358.5 243.1 L358.9 242.3 L359.3 241.4 L359.7 240.5 L360.3 239.9 L361.1 239.4 L362.0 239.0 L362.9 238.6 L363.6 238.0 L364.2 237.3 L364.6 236.5 L365.0 235.6 L365.4 234.8 L366.1 234.1 L366.9 233.7 L367.8 233.3 L368.7 232.9 L369.4 232.4 L369.9 231.6 L370.3 230.8 L370.7 229.8 L371.2 229.0 L371.8 228.4 L372.6 228.0 L373.5 227.6 L374.4 227.2 L375.1 226.6 L375.6 225.9 L376.1 225.1 L376.5 224.2 L377.1 223.5 L377.8 222.9 L378.7 222.6 L379.6 222.3 L380.5 221.9 L381.2 221.3 L381.7 220.5 L382.1 219.7 L382.5 218.8 L383.0 218.0 L383.7 217.4 L384.5 217.0 L385.4 216.6 L386.3 216.2 L386.9 215.5 L387.4 214.7 L387.7 213.8 L388.1 212.9 L388.6 212.2 L389.3 211.6 L390.1 211.1 L391.0 210.7 L391.8 210.2 L392.4 209.5 L392.8 208.7 L393.1 207.8 L393.5 206.9 L394.1 206.2 L394.8 205.6 L395.7 205.2 L396.6 204.9 L397.4 204.4 L398.0 203.7 L398.4 202.9 L398.8 202.0 L399.2 201.1 L399.8 200.4 L400.5 199.9 L401.4 199.5 L402.3 199.1 L403.1 198.7 L403.7 198.0 L404.1 197.2 L404.5 196.2 L404.8 195.4 L405.4 194.6 L406.1 194.1 L407.0 193.7 L407.8 193.2 L408.6 192.7 L409.1 191.9 L409.5 191.0 L409.8 190.1 L410.2 189.3 L410.8 188.6 L411.6 188.1 L412.5 187.7 L413.4 187.3 L414.1 186.8 L414.7 186.1 L415.1 185.2 L415.4 184.3 L415.9 183.5 L416.5 182.8 L417.3 182.4 L418.3 182.0 L419.1 181.6 L419.9 181.1 L420.4 180.4 L420.8 179.5 L421.2 178.6 L421.7 177.8 L422.4 177.2 L423.2 176.8 L424.1 176.5 L425.0 176.1 L425.7 175.5 L426.1 174.4 L426.0 173.5 L425.9 172.5 L425.9 171.6 L426.2 170.7 L426.7 169.9 L427.3 169.2 L427.9 168.4 L428.3 167.6 L428.4 166.7 L428.5 165.8 L428.7 164.8 L429.3 164.0 L430.0 163.5 L430.9 163.2 L431.9 162.9 L432.7 162.3 L433.1 161.4 L433.2 160.5 L433.2 159.6 L433.1 158.6 L433.1 157.9 L433.1 157.0 L433.2 156.1 L433.4 155.2 L433.6 154.2 L433.0 153.1 L432.2 152.7 L431.3 152.4 L430.4 152.2 L429.6 151.7 L429.1 151.3 L428.2 151.0 L427.4 150.5 L426.5 150.1 L425.6 150.0 L424.6 150.2 L423.8 150.7 L422.9 151.1 L422.0 151.3 L421.1 151.3 L420.2 151.1 L419.3 150.9 L418.3 150.8 L417.4 150.9 L416.6 151.3 L415.9 152.1 L415.4 152.9 L414.8 153.6 L414.0 154.0 L413.0 154.2 L412.0 154.3 L411.1 154.4 L410.3 154.8 L409.6 155.5 L408.9 156.1 L408.0 156.5 L407.2 156.8 L406.2 156.7 L405.3 156.5 L404.4 156.2 L403.5 156.1 L402.6 156.2 L401.7 156.5 L400.8 157.0 L400.2 157.6 L399.5 158.1 L398.6 158.4 L397.6 158.4 L396.7 158.8 L395.9 159.3 L395.4 160.0 L395.0 160.9 L394.7 161.8 L394.3 162.7 L393.1 163.2 L392.2 163.0 L391.3 162.7 L390.4 162.4 L389.5 162.2 L388.6 162.3 L387.7 162.7 L386.8 163.1 L386.5 163.6 L386.0 164.4 L385.2 164.9 L384.4 165.4 L383.5 165.8 L382.8 166.4 L382.3 167.1 L381.9 167.7 L381.0 168.2 L380.2 168.5 L379.3 168.6 L378.3 168.4 L377.4 168.1 L376.5 167.8 L375.6 167.7 L374.7 167.8 L373.8 168.3 L373.0 168.8 L372.2 169.3 L371.3 169.5 L370.4 169.5 L369.4 169.3 L368.5 169.7 L367.8 170.3 L367.3 171.1 L367.0 172.0 L366.7 172.9 L366.3 173.7 L365.7 174.4 L364.6 174.8 L363.7 174.5 L362.8 174.2 L361.9 174.1 L361.0 174.2 L360.1 174.6 L359.3 175.2 L358.5 175.7 L357.7 175.9 L356.7 175.9 L355.8 175.8 L354.8 175.7 L353.9 175.9 L353.0 176.5 L352.5 177.3 L352.0 178.1 L351.4 178.9 L350.7 179.4 L349.8 179.7 L348.9 179.9 L348.0 180.2 L347.3 180.3 L346.5 180.6 L345.6 181.1 L344.8 181.6 L343.9 181.9 L343.0 182.0 L342.1 181.9 L341.2 181.6 L340.2 181.5 L339.3 181.5 L338.3 182.0 L337.9 182.9 L337.4 183.7 L336.9 184.4 L336.1 185.0 L335.3 185.3 L334.3 185.6 L333.5 186.0 L332.8 186.6 L332.2 187.1 L331.5 187.7 L330.8 188.3 L330.0 188.8 L329.1 189.0 L328.1 188.9 L327.1 188.9 L326.2 188.9 L325.3 189.2 L324.6 189.7 L323.8 190.1 L322.8 190.3 L321.9 190.3 L321.1 190.0 L320.2 189.5 Z" fill="none" stroke="#fff" stroke-width="2.2" stroke-linejoin="round"/>
<defs><path id="bcp" d="M169.1 492.7 L169.0 491.7 L169.1 490.8 L169.3 490.0 L169.9 489.4 L170.7 489.0 L171.6 488.6 L171.8 487.8 L171.8 486.8 L172.0 486.0 L172.5 485.4 L173.2 484.9 L174.1 484.6 L174.6 483.9 L174.5 482.9 L174.6 482.0 L175.0 481.3 L175.6 480.7 L176.5 480.3 L177.1 479.7 L177.0 478.7 L177.0 477.8 L177.3 477.1 L177.9 476.5 L178.7 476.0 L179.6 475.6 L179.4 474.6 L179.4 473.7 L179.6 472.9 L180.1 472.3 L181.0 472.0 L182.0 471.9 L182.3 471.1 L182.5 470.1 L182.9 469.4 L183.5 468.9 L184.3 468.5 L185.3 468.4 L185.8 467.8 L186.0 466.9 L186.3 466.0 L186.9 465.5 L187.6 465.0 L188.5 464.7 L189.3 464.2 L189.3 463.2 L189.4 462.3 L189.8 461.6 L190.4 461.1 L191.3 460.7 L192.2 460.5 L192.2 459.6 L192.5 458.7 L192.9 458.1 L193.6 457.6 L194.5 457.4 L195.5 457.3 L195.9 456.6 L196.1 455.6 L196.6 454.9 L197.2 454.4 L198.0 454.1 L199.0 453.9 L199.5 453.4 L199.7 452.4 L200.0 451.6 L200.5 451.0 L201.3 450.6 L202.2 450.3 L203.0 450.0 L203.1 449.0 L203.3 448.1 L203.8 447.4 L204.4 446.9 L205.3 446.7 L206.3 446.5 L206.4 445.5 L206.6 444.6 L206.9 443.8 L207.6 443.3 L208.4 443.0 L209.4 442.8 L209.7 442.0 L209.8 441.0 L210.2 440.3 L210.7 439.7 L211.5 439.3 L212.5 439.1 L213.0 438.5 L213.1 437.6 L213.4 436.7 L213.9 436.1 L214.7 435.7 L215.6 435.5 L216.4 435.2 L216.5 434.2 L216.8 433.3 L217.3 432.7 L218.0 432.2 L218.9 432.0 L219.9 431.9 L220.0 430.9 L220.3 430.0 L220.7 429.3 L221.3 428.8 L222.2 428.6 L223.2 428.4 L223.5 427.6 L223.7 426.6 L224.0 425.8 L224.5 425.2 L225.3 424.9 L226.3 424.6 L226.8 424.1 L226.9 423.1 L227.2 422.2 L227.7 421.6 L228.5 421.3 L229.4 421.1 L230.2 420.7 L230.3 419.7 L230.6 418.9 L231.1 418.2 L231.8 417.8 L232.7 417.6 L233.7 417.4 L233.8 416.3 L234.0 415.4 L234.3 414.7 L234.9 414.2 L235.8 413.8 L236.8 413.6 L237.1 412.8 L237.2 411.9 L237.5 411.1 L238.1 410.6 L238.9 410.2 L239.9 410.1 L240.4 409.5 L240.6 408.5 L240.9 407.7 L241.4 407.1 L242.2 406.7 L243.1 406.5 L243.9 406.2 L244.1 405.2 L244.3 404.4 L244.8 403.7 L245.5 403.3 L246.4 403.0 L247.4 402.9 L247.6 401.9 L247.8 401.0 L248.2 400.3 L248.9 399.9 L249.8 399.6 L250.8 399.5 L251.1 398.8 L251.4 397.8 L251.8 397.1 L252.4 396.6 L253.2 396.3 L254.2 396.2 L254.8 395.6 L255.0 394.7 L255.3 393.9 L255.9 393.3 L256.7 392.9 L257.6 392.8 L258.4 392.4 L258.6 391.5 L258.9 390.6 L259.3 389.9 L260.0 389.5 L260.9 389.3 L261.9 389.2 L262.1 388.2 L262.3 387.3 L262.7 386.6 L263.4 386.1 L264.2 385.8 L265.2 385.6 L265.6 384.9 L265.8 383.9 L266.1 383.2 L266.7 382.6 L267.5 382.3 L268.5 382.1 L269.0 381.6 L269.2 380.6 L269.5 379.8 L270.1 379.2 L270.8 378.8 L271.8 378.7 L272.6 378.3 L272.7 377.3 L273.0 376.5 L273.5 375.8 L274.2 375.4 L275.1 375.2 L276.2 375.1 L276.3 374.2 L276.6 373.3 L277.0 372.6 L277.7 372.1 L278.5 371.7 L279.5 371.5 L279.7 370.7 L279.9 369.7 L280.2 368.9 L280.7 368.3 L281.5 367.9 L282.4 367.7 L282.9 367.1 L283.0 366.1 L283.3 365.3 L283.8 364.7 L284.5 364.2 L285.4 364.0 L286.2 363.6 L286.2 362.6 L286.5 361.7 L286.9 361.0 L287.6 360.5 L288.4 360.2 L289.4 360.1 L289.5 359.1 L289.7 358.2 L290.1 357.4 L290.7 356.9 L291.5 356.6 L292.5 356.4 L292.8 355.6 L293.0 354.7 L293.4 353.9 L294.0 353.4 L294.8 353.1 L295.7 352.9 L296.3 352.4 L296.5 351.4 L296.8 350.6 L297.4 350.0 L298.1 349.6 L299.1 349.4 L299.9 349.1 L300.0 348.1 L300.2 347.2 L300.7 346.5 L301.4 346.1 L302.3 345.8 L303.3 345.7 L303.4 344.7 L303.6 343.8 L304.0 343.1 L304.7 342.6 L305.5 342.3 L306.5 342.2 L306.9 341.4 L307.1 340.5 L307.4 339.7 L308.0 339.2 L308.8 338.9 L309.8 338.7 L310.4 338.2 L310.6 337.2 L310.9 336.4 L311.4 335.8 L312.2 335.4 L313.1 335.2 L313.9 334.9 L314.1 333.9 L314.3 333.0 L314.8 332.4 L315.5 331.9 L316.4 331.7 L317.4 331.6 L317.5 330.6 L317.7 329.6 L318.1 328.9 L318.7 328.4 L319.6 328.0 L320.5 327.8 L320.8 327.0 L321.0 326.1 L321.3 325.3 L321.8 324.7 L322.6 324.3 L323.6 324.0 L324.1 323.4 L324.1 322.5 L324.3 321.6 L324.8 320.9 L325.5 320.5 L326.4 320.2 L327.2 319.7 L327.2 318.7 L327.3 317.9 L327.8 317.2 L328.6 317.0 L329.5 316.9 L330.5 317.0 L330.9 316.1 L331.3 315.2 L331.8 314.6 L332.6 314.3 L333.5 314.0 L334.4 313.8 L334.8 313.0 L334.9 312.0 L335.2 311.2 L335.8 310.7 L336.5 310.3 L337.5 310.1 L338.1 309.5 L338.1 308.6 L338.6 307.9 L339.2 307.4 L340.0 307.1 L340.9 307.0 L341.8 306.9 L342.1 305.9 L342.5 305.1 L343.1 304.5 L343.8 304.1 L344.7 303.8 L345.7 303.7 L345.8 302.7 L346.0 301.8 L346.4 301.1 L347.1 300.6 L347.9 300.3 L348.9 300.1 L349.3 299.4 L349.4 298.4 L349.7 297.6 L350.3 297.1 L351.1 296.7 L352.0 296.5 L352.6 295.9 L352.8 295.0 L353.1 294.2 L353.7 293.7 L354.5 293.4 L355.4 293.3 L356.3 293.0 L356.5 292.1 L356.9 291.2 L357.2 290.5 L357.9 289.9 L358.6 289.1 L359.2 288.4 L358.8 287.5 L358.3 286.7 L358.1 285.9 L358.3 285.1 L358.7 284.3 L359.3 283.6 L359.2 282.8 L358.8 282.4 L359.3 281.7 L360.0 281.3 L360.8 281.1 L361.8 281.2 L362.6 281.0 L363.0 280.0 L363.4 279.2 L364.0 278.7 L364.8 278.4 L365.7 278.3 L366.7 278.3 L367.0 277.3 L367.3 276.4 L367.7 275.6 L368.3 275.1 L369.1 274.8 L370.1 274.5 L370.4 273.7 L370.5 272.7 L370.8 272.0 L371.3 271.4 L372.1 271.0 L373.0 270.8 L373.6 270.2 L373.7 269.2 L374.0 268.4 L374.5 267.8 L375.3 267.4 L376.2 267.2 L377.0 266.8 L377.1 265.8 L377.3 264.9 L377.8 264.3 L378.6 264.0 L379.5 263.9 L380.5 264.0 L380.8 263.0 L381.2 262.1 L381.7 261.5 L382.5 261.2 L383.4 260.9 L384.4 260.8 L384.7 260.0 L384.9 259.1 L385.3 258.3 L385.9 257.8 L386.7 257.5 L387.7 257.3 L388.3 256.4 L388.1 255.4 L388.2 254.5 L388.5 253.8 L389.1 253.2 L389.9 252.7 L390.5 252.5 L390.6 251.6 L390.9 250.7 L391.4 250.0 L392.1 249.6 L393.0 249.4 L394.0 249.3 L394.1 248.3 L394.3 247.4 L394.8 246.7 L395.4 246.2 L396.3 245.9 L397.3 245.8 L397.6 245.0 L397.8 244.0 L398.2 243.4 L398.9 242.9 L399.8 242.7 L400.7 242.7 L401.4 242.3 L401.7 241.3 L402.2 240.6 L402.8 240.0 L403.5 239.6 L404.4 239.4 L405.2 239.0 L405.3 238.0 L405.5 237.1 L405.9 236.5 L406.6 236.0 L407.5 235.7 L408.5 235.5 L408.6 234.7 L408.9 233.8 L409.4 233.1 L410.0 232.7 L410.9 232.5 L411.9 232.4 L412.3 231.6 L412.6 230.7 L412.8 229.8 L413.3 229.2 L414.0 228.7 L415.0 228.4 L415.4 227.7 L415.4 226.7 L415.5 225.9 L415.9 225.2 L416.6 224.6 L417.5 224.3 L418.1 223.9 L418.2 222.9 L418.4 222.0 L418.8 221.3 L419.4 220.8 L420.3 220.5 L421.3 220.3 L421.3 219.3 L421.5 218.3 L421.8 217.6 L422.4 217.1 L423.3 216.8 L424.3 216.6 L424.6 215.9 L424.8 214.9 L425.2 214.2 L425.8 213.6 L426.6 213.3 L427.5 213.1 L428.1 212.6 L428.3 211.6 L428.6 210.8 L429.2 210.2 L429.9 209.9 L430.9 209.7 L431.6 209.3 L431.8 208.4 L432.1 207.5 L432.6 206.8 L433.3 206.5 L434.2 206.3 L435.2 206.3 L435.4 205.3 L435.7 204.4 L436.2 203.7 L436.9 203.3 L437.8 203.1 L438.8 202.8 L439.1 202.0 L439.2 201.1 L439.5 200.3 L440.1 199.7 L440.9 199.3 L441.8 199.1 L442.4 198.5 L442.4 197.5 L442.7 196.7 L443.2 196.0 L443.9 195.6 L444.8 195.3 L445.6 194.9 L445.7 193.9 L445.9 193.1 L446.3 192.4 L447.0 191.9 L447.9 191.6 L448.8 191.5 L449.0 190.5 L449.2 189.6 L449.6 188.9 L450.3 188.4 L451.1 188.2 L452.1 188.1 L452.5 187.3 L452.7 186.3 L453.1 185.6 L453.7 185.1 L454.6 184.9 L455.5 184.8 L456.2 184.3 L456.4 183.3 L456.8 182.5 L457.3 182.0 L458.1 181.7 L459.1 181.5 L459.9 181.3 L460.1 180.3 L460.5 179.5 L461.0 178.8 L461.7 178.5 L462.7 178.3 L463.8 178.0 L463.8 177.0 L463.9 176.1 L464.2 175.3 L464.8 174.8 L465.6 174.5 L466.6 174.3 L466.9 173.5 L467.1 172.6 L467.5 171.8 L468.1 171.3 L468.9 171.0 L469.9 170.8 L470.5 170.2 L470.6 169.2 L470.8 168.4 L471.3 167.7 L472.0 167.3 L472.9 167.0 L473.7 166.6 L473.7 165.6 L474.0 164.8 L474.5 164.1 L475.2 163.7 L476.1 163.4 L477.1 163.3 L477.2 162.3 L477.4 161.3 L477.6 160.5 L478.2 159.9 L478.9 159.4 L479.8 159.1 L480.0 158.2 L480.0 157.3 L480.1 156.5 L480.6 155.8 L481.3 155.3 L482.2 154.9 L482.6 154.2 L482.6 153.2 L482.7 152.4 L483.2 151.8 L483.9 151.3 L484.8 151.0 L485.5 150.5 L485.5 149.5 L485.7 148.6 L486.1 147.9 L486.7 147.4 L487.6 147.1 L488.6 146.8 L488.6 145.8 L488.7 144.9 L489.0 144.1 L489.6 143.5 L490.4 143.1 L491.3 142.9 L491.6 142.1 L491.6 141.1 L491.9 140.3 L492.4 139.7 L493.1 139.2 L494.1 138.9 L494.6 138.3 L494.6 137.3 L494.8 136.5 L495.2 135.8 L495.9 135.2 L496.7 134.8 L497.4 134.4 L497.4 133.4 L497.4 132.5 L497.8 131.7 L498.3 131.1 L499.2 130.7 L500.1 130.3 L500.0 129.3 L500.0 128.4 L500.2 127.6 L500.7 126.9 L501.4 126.4 L502.4 125.9 L502.4 125.1 L502.3 124.1 L502.3 123.3 L502.7 122.6 L503.3 122.0 L504.2 121.2 L504.3 120.4 L503.8 119.5 L503.6 118.7 L503.6 117.9 L504.0 117.1 L504.6 116.4 L505.0 115.6 L504.5 114.7 L504.1 113.9 L504.1 113.1 L504.4 112.3 L504.9 111.6 L505.6 110.8 L505.1 110.0 L504.7 109.2 L504.7 108.3 L504.9 107.6 L505.5 106.9 L506.2 106.2 L506.1 105.3 L505.7 104.5 L505.6 103.7 L506.3 103.2 L507.1 103.1 L508.1 103.1 L508.8 102.7 L509.1 101.8 L509.6 101.1 L510.4 100.9 L511.2 101.0 L512.1 101.3 L512.9 101.5 L513.6 100.8 L514.3 100.2 L515.0 99.9 L515.9 99.8 L516.8 100.0 L517.7 100.3 L518.3 99.5 L518.9 98.7 L519.5 98.2 L520.3 97.9 L521.2 97.8 L522.2 97.8 L522.7 97.1 L523.0 96.2 L523.4 95.4 L524.2 95.2 L525.0 95.3 L526.0 95.6 L526.8 95.5 L527.4 94.7 L528.0 94.2 L528.8 93.9 L529.6 93.8 L530.6 94.0 L531.5 94.0 L532.0 93.1 L532.5 92.4 L533.1 91.8 L533.7 91.3 L534.6 91.0 L535.6 90.8 L535.7 89.9 L535.9 88.9 L536.2 88.2 L536.8 87.6 L537.7 87.4 L538.6 87.4 L539.1 86.7 L539.4 85.8 L539.8 85.0 L540.4 84.5 L541.3 84.2 L542.2 84.2 L542.7 84.1 L543.3 83.3 L543.9 82.7 L544.6 82.4 L545.5 82.4 L546.4 82.6 L547.4 82.6 L547.9 81.7 L548.4 81.0 L549.0 80.5 L549.6 79.9 L550.3 79.3 L551.1 78.7 L551.0 77.9 L550.8 77.0 L551.0 76.2 L551.4 75.5 L552.2 75.0 L553.1 74.6 L553.4 73.9 L553.3 72.9 L553.5 72.2 L554.3 71.9 L555.1 71.8 L556.0 72.0 L556.9 72.0 L557.4 71.1 L558.0 70.5 L558.7 70.1 L559.5 70.1 L560.4 70.3 L561.4 70.6 L562.2 69.3 L562.3 68.4 L562.6 67.7 L563.2 67.1 L564.0 66.7 L564.9 66.4 L565.2 65.6 L565.2 64.6 L565.5 63.9 L566.1 63.3 L566.9 63.0 L567.9 62.9 L568.4 62.4 L568.7 61.5 L569.1 60.7 L569.7 60.2 L570.5 59.9 L571.5 59.9 L572.3 59.7 L572.6 58.7 L573.0 57.9 L573.6 57.3 L574.3 57.0 L575.2 57.2 L576.2 57.4 L576.7 56.5 L577.2 55.8 L577.9 55.2 L578.7 55.0 L579.6 55.1 L580.5 55.3 L581.1 54.7 L581.7 53.9 L582.3 53.3 L583.0 53.0 L582.9 53.5 L582.4 54.3 L582.0 55.1 L582.6 55.9 L583.0 56.7 L583.2 57.5 L583.0 58.3 L582.6 59.1 L581.9 59.9 L582.5 60.7 L583.0 61.5 L583.2 62.3 L583.1 63.1 L582.7 63.9 L582.1 64.7 L582.4 65.5 L582.9 66.3 L583.2 67.1 L583.2 67.9 L582.9 68.7 L582.3 69.5 L582.3 70.3 L582.9 71.1 L583.2 71.9 L583.3 72.7 L583.0 73.5 L582.5 74.3 L582.2 75.1 L582.8 75.9 L583.2 76.7 L583.3 77.5 L583.2 78.3 L582.7 79.1 L582.1 79.9 L582.7 80.7 L583.1 81.5 L583.4 82.3 L583.3 83.1 L582.9 83.9 L582.3 84.7 L582.5 85.5 L583.1 86.3 L583.4 87.1 L583.4 87.9 L583.0 88.7 L582.5 89.5 L582.4 90.3 L583.0 91.1 L583.4 91.9 L583.4 92.7 L583.2 93.5 L582.7 94.3 L582.3 95.1 L582.9 95.9 L583.3 96.7 L583.5 97.5 L583.3 98.3 L582.8 99.1 L582.2 99.9 L582.8 100.7 L583.3 101.5 L583.5 102.3 L583.4 103.1 L583.0 103.9 L582.4 104.7 L582.7 105.5 L583.2 106.3 L583.5 107.1 L583.5 107.9 L583.2 108.7 L582.6 109.5 L582.6 110.3 L583.2 111.1 L583.5 111.9 L583.6 112.7 L583.3 113.5 L582.9 112.9 L582.1 112.4 L581.3 113.0 L580.5 113.4 L579.7 113.6 L578.9 113.4 L578.1 113.0 L577.3 112.4 L576.5 112.8 L575.7 113.4 L574.9 113.7 L574.1 113.7 L573.2 113.4 L572.4 112.9 L571.3 113.4 L571.1 114.9 L571.4 115.7 L571.4 116.5 L570.9 117.2 L570.2 117.9 L569.7 118.5 L570.1 119.5 L570.3 120.4 L570.2 121.2 L569.8 121.9 L569.1 122.5 L568.5 122.3 L568.3 123.3 L568.0 124.2 L567.5 124.8 L566.8 125.2 L565.9 125.4 L564.9 125.5 L564.3 126.3 L564.2 127.3 L564.0 128.1 L563.4 128.7 L562.7 129.1 L561.7 129.4 L561.2 130.0 L561.2 131.0 L561.0 131.8 L560.5 132.5 L559.8 132.9 L558.9 133.3 L558.1 134.1 L558.4 135.0 L558.5 135.9 L558.4 136.7 L558.0 137.4 L557.3 138.0 L556.5 138.3 L556.6 139.3 L556.6 140.2 L556.3 141.0 L555.8 141.7 L555.1 142.1 L554.3 142.3 L553.9 143.0 L553.7 144.0 L553.3 144.7 L552.8 145.3 L552.0 145.6 L551.0 145.8 L550.4 146.3 L550.3 147.4 L550.0 148.2 L549.6 148.9 L548.9 149.3 L548.0 149.6 L547.1 150.0 L547.1 151.2 L547.3 152.1 L547.2 152.9 L546.9 153.7 L546.2 154.3 L545.4 154.9 L545.7 155.9 L546.0 156.7 L546.0 157.6 L545.6 158.2 L544.7 158.4 L543.7 158.5 L543.2 159.1 L542.9 160.0 L542.5 160.8 L541.9 161.3 L541.1 161.6 L540.1 161.7 L539.3 162.2 L539.3 163.2 L539.1 164.1 L538.6 164.8 L537.9 165.2 L537.0 165.5 L536.1 165.8 L536.2 167.1 L536.3 168.0 L536.1 168.8 L535.7 169.5 L535.0 170.0 L534.1 170.5 L534.2 171.4 L534.3 172.4 L534.3 173.2 L533.9 173.9 L533.3 174.5 L532.4 175.1 L532.3 175.9 L532.6 176.6 L532.0 177.2 L531.3 177.6 L530.5 177.8 L529.5 177.7 L528.5 178.1 L528.4 179.1 L528.3 180.1 L528.3 180.9 L527.9 181.7 L527.3 182.4 L526.6 183.1 L526.9 183.6 L526.9 184.6 L526.7 185.4 L526.2 186.0 L525.4 186.5 L524.5 186.9 L524.4 187.7 L524.3 188.4 L523.9 189.1 L523.2 189.6 L522.4 189.8 L521.4 189.9 L520.8 190.4 L520.5 191.3 L520.1 192.1 L519.5 192.6 L518.7 192.9 L517.7 193.0 L516.9 193.2 L516.7 194.1 L516.2 194.9 L515.6 195.4 L514.8 195.7 L513.9 195.7 L512.9 195.6 L512.5 196.5 L512.1 197.0 L511.3 197.3 L510.5 197.3 L509.7 197.0 L508.8 196.5 L508.2 196.7 L507.3 197.2 L506.5 197.4 L505.7 197.3 L505.0 197.0 L503.9 196.5 L503.1 196.7 L502.5 197.4 L501.8 197.9 L501.0 198.2 L500.2 198.1 L499.3 197.8 L498.4 197.7 L497.8 198.5 L497.1 199.1 L496.4 199.5 L495.6 199.5 L494.6 199.3 L493.5 199.2 L493.1 200.1 L492.7 200.9 L492.1 201.5 L491.3 201.7 L490.4 201.7 L489.5 201.4 L488.8 202.0 L488.3 202.8 L487.7 203.5 L487.0 203.8 L486.1 203.9 L485.0 204.0 L484.4 204.5 L484.2 205.5 L483.9 206.3 L483.4 206.9 L482.6 207.3 L481.7 207.6 L480.9 207.9 L480.8 208.9 L480.6 209.8 L480.2 210.5 L479.5 211.0 L478.6 211.3 L477.6 211.5 L477.5 212.4 L477.4 213.3 L476.9 214.0 L476.3 214.5 L475.4 214.8 L474.5 214.9 L474.1 215.7 L473.9 216.6 L473.5 217.4 L472.9 217.9 L472.1 218.2 L471.1 218.4 L470.5 218.9 L470.4 219.9 L470.1 220.7 L469.5 221.3 L468.8 221.7 L467.9 221.9 L467.0 222.2 L466.9 223.3 L466.7 224.2 L466.3 224.9 L465.7 225.4 L464.8 225.7 L463.8 225.9 L463.7 226.9 L463.6 227.8 L463.3 228.6 L462.7 229.1 L462.0 229.3 L461.0 229.2 L460.4 229.8 L460.0 230.7 L459.4 231.3 L458.7 231.7 L457.9 231.8 L456.9 231.7 L456.2 232.0 L455.7 232.9 L455.2 233.6 L454.5 234.0 L453.7 234.1 L452.6 234.2 L451.8 234.4 L451.5 235.4 L451.2 236.3 L450.7 236.9 L449.9 237.3 L449.0 237.5 L448.0 237.7 L447.9 238.7 L447.8 239.6 L447.4 240.4 L446.8 240.9 L446.0 241.3 L445.0 241.5 L444.7 242.2 L444.5 243.1 L444.1 243.9 L443.6 244.5 L442.8 244.8 L441.8 245.0 L441.2 245.5 L441.0 246.4 L440.7 247.2 L440.1 247.8 L439.4 248.1 L438.4 248.2 L437.5 248.4 L437.3 249.4 L437.0 250.3 L436.5 250.9 L435.7 251.3 L434.8 251.5 L433.8 251.5 L433.6 252.5 L433.3 253.4 L432.9 254.1 L432.3 254.7 L431.6 255.2 L430.7 255.6 L430.5 256.4 L430.5 257.3 L430.4 258.2 L429.9 258.8 L429.1 259.1 L428.2 259.2 L427.5 259.6 L427.2 260.5 L426.8 261.3 L426.2 261.9 L425.5 262.2 L424.8 262.0 L424.0 261.7 L423.3 262.4 L422.5 263.0 L421.8 263.2 L421.0 263.2 L419.9 263.5 L419.0 263.8 L418.8 264.7 L418.8 265.6 L418.5 266.4 L418.0 267.0 L417.3 267.4 L416.3 267.4 L415.8 268.0 L415.5 269.0 L415.1 269.7 L414.5 270.3 L413.7 270.6 L412.8 270.7 L412.0 271.0 L411.8 272.0 L411.4 272.8 L410.9 273.4 L410.1 273.7 L409.2 273.9 L408.2 274.0 L408.0 275.0 L407.7 275.9 L407.3 276.5 L406.6 277.0 L405.8 277.3 L404.8 277.5 L404.5 278.3 L404.3 279.3 L404.0 280.0 L403.4 280.6 L402.6 280.9 L401.6 281.1 L401.1 281.4 L400.8 282.3 L400.3 283.0 L399.6 283.5 L398.8 283.7 L397.8 283.7 L397.0 283.9 L396.7 284.8 L396.2 285.6 L395.6 286.1 L394.8 286.5 L393.9 286.7 L392.9 286.8 L392.8 287.9 L392.6 288.7 L392.1 289.4 L391.5 289.9 L390.6 290.3 L389.7 290.6 L389.5 291.4 L389.4 292.4 L389.1 293.2 L388.6 293.8 L387.9 294.2 L386.9 294.5 L386.5 295.2 L386.5 296.2 L386.1 296.8 L385.4 297.1 L384.5 297.2 L383.6 297.0 L382.8 297.0 L382.2 297.9 L381.7 298.6 L381.0 299.0 L380.2 299.2 L379.2 299.2 L378.2 299.1 L377.9 300.0 L377.4 300.8 L376.8 301.4 L376.2 302.0 L375.4 302.4 L374.5 302.7 L374.3 303.5 L374.2 304.5 L374.0 305.3 L373.5 305.9 L372.7 306.3 L371.9 306.5 L371.3 307.1 L371.1 308.0 L370.8 308.8 L370.3 309.4 L369.5 309.8 L368.6 310.0 L367.8 310.3 L367.6 311.3 L367.3 312.1 L366.8 312.8 L366.1 313.2 L365.3 313.3 L364.3 313.2 L363.9 314.1 L363.5 315.0 L363.0 315.6 L362.2 315.9 L361.3 316.1 L360.3 316.2 L359.9 317.0 L359.9 318.3 L360.0 319.1 L359.7 319.9 L359.2 320.5 L358.4 321.2 L358.2 321.9 L358.5 322.6 L358.2 323.4 L357.7 324.0 L356.9 324.4 L356.0 324.6 L355.2 324.9 L355.0 325.9 L354.8 326.7 L354.1 327.1 L353.3 327.2 L352.4 327.1 L351.4 326.7 L350.8 327.5 L350.3 328.3 L349.6 328.8 L348.8 329.1 L348.0 329.4 L347.0 329.5 L346.6 330.3 L346.4 331.2 L346.1 332.0 L345.6 332.6 L344.8 333.0 L343.9 333.3 L343.3 333.8 L343.2 334.8 L343.0 335.6 L342.5 336.3 L341.8 336.7 L340.9 337.0 L340.0 337.4 L340.0 338.4 L339.8 339.2 L339.4 339.9 L338.7 340.4 L337.9 340.8 L336.9 341.0 L336.7 341.8 L336.5 342.7 L336.1 343.4 L335.4 343.9 L334.6 344.1 L333.6 344.2 L333.1 344.9 L332.9 345.9 L332.5 346.6 L331.9 347.2 L331.2 347.6 L330.2 347.7 L329.6 348.2 L329.4 349.2 L329.1 350.0 L328.6 350.7 L327.9 351.1 L327.0 351.3 L326.1 351.6 L326.0 352.6 L325.7 353.4 L325.3 354.1 L324.6 354.6 L323.7 354.8 L322.7 355.0 L322.5 355.9 L322.3 356.8 L321.9 357.5 L321.2 358.0 L320.4 358.2 L319.4 358.3 L318.9 359.0 L318.7 359.9 L318.3 360.7 L317.7 361.2 L316.9 361.5 L315.9 361.7 L315.3 362.2 L315.2 363.2 L314.9 364.1 L314.4 364.7 L313.6 365.1 L312.7 365.3 L311.9 365.6 L311.8 366.6 L311.5 367.5 L311.0 368.1 L310.3 368.5 L309.4 368.8 L308.4 368.9 L308.2 369.8 L308.0 370.7 L307.6 371.4 L306.9 371.9 L306.1 372.2 L305.1 372.3 L304.6 373.0 L304.4 374.0 L304.1 374.7 L303.5 375.3 L302.7 375.6 L301.7 375.8 L301.1 376.4 L301.0 377.4 L300.8 378.2 L300.3 378.9 L299.6 379.3 L298.7 379.6 L297.8 379.9 L297.8 380.9 L297.6 381.8 L297.1 382.4 L296.4 382.9 L295.5 383.1 L294.5 383.2 L294.3 384.1 L294.0 385.0 L293.6 385.7 L292.9 386.2 L292.1 386.4 L291.1 386.5 L290.6 387.2 L290.4 388.1 L290.0 388.9 L289.4 389.4 L288.6 389.7 L287.6 389.8 L286.9 390.2 L286.7 391.2 L286.3 392.0 L285.8 392.6 L285.0 392.9 L284.1 393.1 L283.2 393.3 L283.0 394.3 L282.7 395.1 L282.2 395.8 L281.4 396.1 L280.5 396.2 L279.5 396.2 L279.2 397.1 L278.8 397.9 L278.3 398.6 L277.6 399.0 L276.7 399.3 L275.7 399.4 L275.3 400.1 L275.1 401.0 L274.8 401.8 L274.2 402.4 L273.4 402.7 L272.4 402.9 L271.7 403.5 L271.7 404.5 L271.5 405.3 L271.0 406.0 L270.4 406.5 L269.5 406.8 L268.9 406.9 L268.6 407.8 L268.1 408.6 L267.6 409.2 L266.8 409.5 L265.9 409.6 L264.9 409.5 L264.5 410.4 L264.1 411.2 L263.5 411.7 L262.7 412.0 L261.7 412.1 L260.7 412.2 L260.3 412.9 L260.1 413.8 L259.7 414.6 L259.1 415.1 L258.3 415.4 L257.3 415.6 L256.6 416.0 L256.5 417.0 L256.1 417.8 L255.6 418.4 L254.8 418.8 L253.9 418.9 L253.0 419.2 L252.9 420.2 L252.6 421.0 L252.1 421.7 L251.4 422.1 L250.5 422.4 L249.5 422.5 L249.3 423.4 L249.1 424.3 L248.7 425.0 L248.0 425.5 L247.2 425.8 L246.2 426.0 L245.8 426.7 L245.6 427.6 L245.2 428.4 L244.6 428.9 L243.8 429.3 L242.9 429.4 L242.2 429.9 L242.1 430.9 L241.8 431.7 L241.3 432.4 L240.6 432.8 L239.6 433.0 L238.8 433.3 L238.7 434.3 L238.4 435.2 L238.0 435.9 L237.3 436.3 L236.4 436.5 L235.4 436.5 L235.1 437.4 L234.8 438.3 L234.4 439.0 L233.7 439.5 L232.8 439.7 L231.9 439.7 L231.3 440.6 L231.2 441.5 L230.9 442.3 L230.3 442.9 L229.6 443.3 L228.6 443.5 L228.0 444.0 L227.9 445.0 L227.6 445.8 L227.1 446.5 L226.4 446.9 L225.5 447.1 L224.6 447.4 L224.5 448.4 L224.3 449.3 L223.8 449.9 L223.1 450.4 L222.3 450.7 L221.3 450.8 L221.1 451.7 L220.9 452.6 L220.5 453.4 L219.8 453.9 L219.0 454.2 L218.0 454.3 L217.6 455.0 L217.4 456.0 L217.1 456.8 L216.5 457.3 L215.7 457.6 L214.7 457.8 L214.1 458.3 L213.9 459.3 L213.6 460.1 L213.1 460.7 L212.3 461.1 L211.4 461.4 L210.6 461.6 L210.5 462.7 L210.3 463.5 L209.8 464.2 L209.2 464.7 L208.3 465.0 L207.3 465.2 L207.2 466.1 L207.0 467.0 L206.7 467.8 L206.3 468.5 L205.6 469.1 L204.7 469.6 L204.5 470.3 L204.7 471.3 L204.6 472.2 L204.2 472.9 L203.7 473.3 L202.7 473.3 L202.0 473.7 L201.7 474.6 L201.3 475.4 L200.7 476.0 L199.9 476.3 L199.0 476.2 L198.1 476.1 L197.6 477.0 L197.1 477.8 L196.5 478.3 L195.7 478.5 L194.8 478.5 L193.8 478.3 L193.3 479.3 L193.0 480.2 L192.5 480.9 L191.9 481.4 L191.0 481.6 L190.0 481.7 L189.5 482.3 L189.3 483.3 L189.1 484.2 L189.0 485.0 L188.5 485.7 L187.8 486.4 L187.4 487.1 L187.8 488.0 L188.1 488.9 L188.0 489.7 L187.6 490.4 L187.0 491.1 L187.5 490.7 L186.7 491.3 L185.9 491.8 L185.1 492.0 L184.3 491.9 L183.5 491.5 L182.7 490.8 L181.9 491.2 L181.1 491.7 L180.3 492.0 L179.5 491.9 L178.7 491.6 L177.9 491.0 L177.1 491.0 L176.3 491.6 L175.5 491.9 L174.7 492.0 L173.9 491.7 L173.1 491.2 L172.3 490.9 L171.5 491.5 L170.7 491.9 L169.9 492.0 L169.1 491.8 L168.3 491.3 Z"/></defs><use href="#bcp" fill="#1c22ec"/>
<clipPath id="bc"><use href="#bcp"/></clipPath>
<g clip-path="url(#bc)">
<polyline points="194.3,472.2 200.0,468.7 204.3,465.0 210.0,458.7 215.1,453.7 220.0,448.7 223.6,445.0 230.0,438.0 235.1,433.7 240.0,428.5 250.0,418.7 260.0,409.4 262.9,408.0 267.2,405.1 270.0,401.5 275.1,396.5 280.0,392.9 290.0,384.1 295.1,379.4 300.0,373.7 310.0,364.1 315.1,358.7 320.0,354.4 330.0,344.1 335.1,339.4 340.0,333.7 343.6,329.4 347.2,325.8 352.9,323.7 355.8,320.8 357.2,315.8 359.4,313.6 363.7,310.8 370.0,304.7 374.3,298.7 379.3,295.8 384.3,293.7 388.6,287.9 392.9,283.6 400.0,279.0 405.0,273.7 410.0,269.4 415.1,265.1 418.6,260.1 423.7,259.3 427.2,256.5 430.0,251.8 434.3,248.0 438.6,244.4 442.9,240.1 447.2,235.1 451.5,231.5 455.8,229.3 460.0,226.9" fill="none" stroke="#0c0cd0" stroke-width="8" stroke-linejoin="round" filter="url(#bl)" opacity="0.45"/>
<polyline points="455.8,229.3 460.0,226.9 465.0,220.8 470.0,215.8 475.1,210.8 480.1,205.1 483.7,201.5 487.2,199.7 490.0,198.5 493.6,196.5 498.6,195.1 504.3,193.7 508.6,194.0 511.5,193.7 515.1,191.5 518.7,188.7 522.3,185.8 524.4,182.2 525.1,177.9 527.3,175.8 530.0,174.3 531.5,170.5 533.9,164.8 537.9,160.0 542.7,156.0 544.4,149.5 548.4,144.7 552.4,140.6 554.5,137.1 556.1,132.3 559.3,128.2 562.5,124.2 566.5,121.0 567.8,116.1 568.2,112.1 571.0,110.5 576.0,110.0 580.0,110.0" fill="none" stroke="#0808b4" stroke-width="18" stroke-linejoin="round" filter="url(#bl)" opacity="0.55"/>
<polygon points="504.5,132.2 506.7,127.2 507.3,122.3 508.0,115.1 508.8,110.8 510.9,109.4 515.2,108.6 519.5,107.2 522.4,105.8 525.2,103.6 530.0,102.3 535.0,100.1 539.3,95.1 543.6,91.5 547.9,90.1 552.2,87.9 553.7,83.6 555.8,80.1 559.3,78.7 563.6,77.3 565.8,74.4 567.9,71.5 570.1,69.4 576.0,65.0 580.0,63.0 575.0,76.0 562.0,86.5 550.0,98.0 537.0,110.0 523.0,123.0 508.0,137.5" fill="#05058e" filter="url(#bl2)"/>
<polyline points="200.0,459.3 205.0,451.5 210.0,445.8 215.1,440.1 220.0,435.0 225.0,430.1 230.0,424.4 235.1,419.3 240.0,413.6 250.0,403.6 260.0,394.4 265.0,389.4 270.0,384.3 275.1,379.3 280.0,374.7 285.0,368.7 290.0,362.9 295.1,357.2 300.0,352.5 305.0,347.2 310.0,342.2 315.1,337.2 320.0,332.2 325.0,326.5 330.0,320.1 335.1,316.8 340.0,311.2 345.5,307.2 350.4,302.2 355.0,297.2 359.3,293.7 361.5,290.8 361.8,284.4 364.3,282.9 369.3,279.3 375.0,272.5 380.0,267.2 385.0,263.6 390.1,258.6 392.2,254.3 395.0,251.5 400.0,246.5 405.0,242.9 410.1,237.2 415.1,232.9 420.0,225.5 425.0,219.4 430.0,214.4 435.1,209.4 440.1,205.1 445.1,199.3 450.0,193.6 455.0,188.7 460.0,184.4 465.1,180.1 467.9,176.5 472.2,172.2 475.8,167.9 480.0,163.6 485.2,155.0 489.5,149.4 493.8,143.7 498.1,137.9 501.7,132.2 504.5,127.2 506.7,122.2 507.3,117.3 508.0,110.1 508.8,105.8 510.9,104.4 515.2,103.6 519.5,102.2 522.4,100.8 525.2,98.6 530.0,97.3 535.0,95.1 539.3,90.1 543.6,86.5 547.9,85.1 552.2,82.9 553.7,78.6 555.8,75.1 559.3,73.7 563.6,72.3 565.8,69.4 567.9,66.5 570.1,64.4 576.0,60.0 580.0,58.0" fill="none" stroke="#2630ff" stroke-width="7" stroke-linejoin="round" filter="url(#bl3)"/>
<polyline points="200.0,463.2 205.0,456.8 210.0,451.2 215.0,445.9 220.0,440.8 225.0,435.7 230.0,430.1 235.0,425.4 240.0,419.9 245.0,414.9 250.0,409.9 255.0,405.3 260.0,400.7 265.0,396.6 270.0,391.5 275.0,386.6 280.0,382.3 285.0,377.0 290.0,371.8 295.0,366.6 300.0,361.4 305.0,356.3 310.0,351.4 315.0,346.3 320.0,341.5 325.0,336.1 330.0,330.2 335.0,326.4 340.0,320.6 345.0,316.1 350.0,311.9 355.0,307.4 360.0,301.4 365.0,293.8 370.0,289.5 375.0,283.3 380.0,279.1 385.0,275.8 390.0,270.4 395.0,264.4 400.0,260.1 405.0,255.8 410.0,250.8 415.0,246.5 420.0,239.9 425.0,235.7 430.0,230.1 435.0,225.4 440.0,221.1" fill="none" stroke="#5a70f4" stroke-width="7" stroke-linejoin="round" filter="url(#bl)" opacity="0.6"/>
<polyline points="435.0,225.4 440.0,221.1 447.5,202.0 465.0,186.0 490.0,159.5 508.0,141.5 523.0,127.0 537.0,114.0 550.0,102.0 562.0,90.5 575.0,80.0" fill="none" stroke="#6a80f6" stroke-width="6" stroke-linejoin="round" filter="url(#bl2)" opacity="0.9"/>
</g>
<use href="#bcp" fill="none" stroke="#8c8c8c" stroke-width="1.9" stroke-linejoin="round"/>
<path d="M200.0 459.3 L200.2 458.3 L200.5 457.5 L201.1 456.8 L201.8 456.2 L202.6 455.6 L203.3 455.0 L203.9 454.3 L204.2 453.4 L204.3 452.5 L204.5 451.5 L205.0 450.7 L205.7 450.1 L206.5 449.6 L207.4 449.2 L208.2 448.7 L208.8 448.0 L209.2 447.2 L209.5 446.2 L209.9 445.3 L210.4 444.6 L211.1 444.0 L211.9 443.5 L212.8 443.1 L213.6 442.6 L214.1 441.9 L214.6 441.1 L214.9 440.2 L215.3 439.3 L215.8 438.6 L216.6 438.0 L217.4 437.6 L218.3 437.2 L219.1 436.7 L219.7 436.0 L220.1 435.2 L220.5 434.3 L220.9 433.5 L221.5 432.8 L222.3 432.3 L223.2 431.9 L224.1 431.5 L224.8 431.0 L225.4 430.3 L225.8 429.4 L226.1 428.5 L226.5 427.6 L227.1 426.9 L227.8 426.4 L228.7 426.0 L229.5 425.5 L230.2 425.0 L230.8 424.3 L231.2 423.4 L231.6 422.5 L232.0 421.7 L232.6 421.0 L233.4 420.6 L234.3 420.2 L235.2 419.8 L235.9 419.2 L236.4 418.4 L236.8 417.5 L237.1 416.6 L237.5 415.8 L238.1 415.1 L238.9 414.6 L239.7 414.1 L240.6 413.7 L241.3 413.1 L241.8 412.4 L242.2 411.5 L242.6 410.6 L243.0 409.8 L243.7 409.2 L244.5 408.8 L245.4 408.4 L246.3 408.0 L247.0 407.4 L247.5 406.6 L247.9 405.7 L248.3 404.9 L248.8 404.1 L249.4 403.5 L250.3 403.1 L251.2 402.7 L252.1 402.3 L252.8 401.8 L253.3 401.0 L253.7 400.1 L254.1 399.3 L254.7 398.5 L255.4 398.0 L256.3 397.6 L257.2 397.3 L258.0 396.9 L258.7 396.3 L259.2 395.5 L259.6 394.6 L260.0 393.7 L260.6 393.0 L261.3 392.5 L262.2 392.1 L263.1 391.7 L263.9 391.2 L264.5 390.6 L265.0 389.8 L265.3 388.9 L265.7 388.0 L266.3 387.3 L267.0 386.8 L267.9 386.4 L268.8 386.0 L269.6 385.5 L270.2 384.8 L270.6 384.0 L271.0 383.1 L271.4 382.2 L272.0 381.5 L272.8 381.0 L273.7 380.7 L274.6 380.3 L275.4 379.8 L276.0 379.1 L276.4 378.3 L276.8 377.4 L277.3 376.6 L277.9 375.9 L278.7 375.5 L279.6 375.1 L280.5 374.7 L281.2 374.1 L281.7 373.4 L282.0 372.5 L282.3 371.5 L282.7 370.7 L283.3 370.0 L284.0 369.4 L284.9 369.0 L285.7 368.5 L286.4 367.9 L286.9 367.2 L287.2 366.3 L287.5 365.3 L287.9 364.5 L288.5 363.8 L289.3 363.3 L290.2 362.9 L291.0 362.4 L291.7 361.8 L292.2 361.0 L292.5 360.1 L292.9 359.2 L293.3 358.4 L293.9 357.8 L294.7 357.3 L295.6 356.9 L296.5 356.5 L297.2 355.9 L297.7 355.2 L298.1 354.3 L298.5 353.4 L299.1 352.7 L299.7 352.1 L300.6 351.6 L301.5 351.3 L302.3 350.8 L302.9 350.2 L303.4 349.4 L303.8 348.5 L304.1 347.6 L304.6 346.8 L305.3 346.2 L306.2 345.8 L307.1 345.4 L307.9 345.0 L308.6 344.4 L309.0 343.6 L309.4 342.7 L309.8 341.8 L310.4 341.1 L311.1 340.5 L312.0 340.1 L312.9 339.8 L313.7 339.3 L314.3 338.7 L314.8 337.9 L315.2 337.0 L315.6 336.1 L316.1 335.4 L316.9 334.8 L317.7 334.4 L318.6 334.1 L319.4 333.6 L320.0 332.9 L320.4 332.0 L320.7 331.1 L321.1 330.2 L321.6 329.5 L322.4 328.9 L323.2 328.5 L324.1 328.1 L324.8 327.5 L325.4 326.8 L325.7 325.9 L326.0 324.9 L326.3 324.0 L326.8 323.3 L327.5 322.7 L328.4 322.2 L329.2 321.8 L329.9 321.1 L330.2 320.5 L330.8 319.7 L331.4 318.9 L332.0 318.2 L332.7 317.7 L333.6 317.4 L334.6 317.2 L335.6 316.9 L336.3 316.3 L336.8 315.5 L337.1 314.7 L337.4 313.7 L337.8 312.9 L338.4 312.2 L339.2 311.7 L340.1 311.3 L341.0 311.0 L341.8 310.6 L342.4 309.9 L342.9 309.1 L343.4 308.3 L344.0 307.6 L344.8 307.1 L345.6 306.8 L346.5 306.4 L347.4 306.0 L348.1 305.4 L348.6 304.6 L348.9 303.7 L349.3 302.8 L349.8 302.0 L350.5 301.4 L351.3 301.0 L352.2 300.6 L353.0 300.1 L353.6 299.5 L354.1 298.7 L354.4 297.8 L354.8 296.8 L355.4 296.1 L356.2 295.7 L357.1 295.3 L358.0 295.1 L358.9 294.7 L359.6 294.1 L360.0 293.2 L360.3 292.3 L360.6 291.3 L361.0 290.5 L361.1 290.0 L361.5 289.1 L361.9 288.2 L362.2 287.3 L362.2 286.4 L362.0 285.5 L361.7 284.6 L362.2 283.7 L362.9 283.1 L363.7 282.8 L364.6 282.5 L365.6 282.3 L366.5 282.0 L367.2 281.4 L367.8 280.7 L368.3 279.9 L368.8 279.1 L369.3 278.5 L370.0 277.9 L370.8 277.4 L371.7 277.0 L372.4 276.4 L373.0 275.7 L373.3 274.8 L373.6 273.9 L374.0 273.0 L374.5 272.3 L375.3 271.7 L376.1 271.3 L377.0 270.9 L377.8 270.4 L378.3 269.7 L378.7 268.8 L379.1 267.9 L379.5 267.0 L380.2 266.4 L381.1 266.0 L382.0 265.8 L383.0 265.5 L383.8 265.2 L384.5 264.5 L385.0 263.8 L385.4 262.9 L385.9 262.0 L386.5 261.4 L387.3 260.9 L388.2 260.6 L389.1 260.2 L389.8 259.6 L390.4 258.9 L390.6 257.9 L390.6 256.9 L390.8 256.0 L391.2 255.2 L391.8 254.5 L392.7 254.0 L393.6 253.6 L394.3 253.0 L394.8 252.3 L395.2 251.4 L395.6 250.5 L396.1 249.7 L396.7 249.1 L397.5 248.6 L398.4 248.3 L399.3 247.9 L400.0 247.3 L400.5 246.6 L401.0 245.8 L401.5 245.0 L402.2 244.3 L402.9 243.8 L403.8 243.5 L404.8 243.3 L405.7 242.9 L406.3 242.2 L406.8 241.4 L407.1 240.5 L407.4 239.6 L407.9 238.8 L408.6 238.2 L409.4 237.7 L410.3 237.4 L411.1 237.0 L411.8 236.4 L412.4 235.6 L412.8 234.8 L413.3 233.9 L413.9 233.2 L414.6 232.7 L415.4 232.3 L416.2 231.8 L416.9 231.1 L417.4 230.4 L417.7 229.5 L417.8 228.6 L418.1 227.6 L418.5 226.8 L419.1 226.1 L419.9 225.6 L420.7 225.1 L421.5 224.5 L422.0 223.8 L422.4 223.0 L422.7 222.0 L423.0 221.1 L423.5 220.4 L424.2 219.8 L425.0 219.3 L425.9 218.9 L426.7 218.5 L427.3 217.8 L427.7 216.9 L428.1 216.0 L428.5 215.2 L429.1 214.5 L429.9 214.0 L430.8 213.6 L431.7 213.3 L432.5 212.8 L433.0 212.1 L433.5 211.2 L433.8 210.3 L434.3 209.5 L435.0 208.8 L435.8 208.4 L436.7 208.1 L437.6 207.8 L438.4 207.3 L439.0 206.6 L439.5 205.8 L439.9 204.9 L440.3 204.1 L440.9 203.4 L441.6 202.9 L442.5 202.5 L443.3 202.0 L444.0 201.4 L444.5 200.6 L444.8 199.7 L445.1 198.8 L445.6 198.0 L446.2 197.3 L447.0 196.8 L447.8 196.4 L448.7 195.9 L449.3 195.2 L449.8 194.4 L450.1 193.5 L450.5 192.7 L451.0 191.9 L451.7 191.3 L452.5 190.9 L453.4 190.5 L454.3 190.1 L454.9 189.5 L455.4 188.8 L455.9 187.9 L456.3 187.0 L456.9 186.3 L457.7 185.8 L458.5 185.5 L459.5 185.2 L460.3 184.8 L461.0 184.2 L461.6 183.5 L462.0 182.6 L462.5 181.8 L463.1 181.1 L463.9 180.6 L464.8 180.3 L465.6 179.8 L466.4 179.3 L466.9 178.6 L467.3 177.7 L467.6 176.8 L467.9 175.9 L468.5 175.1 L469.2 174.6 L470.1 174.2 L471.0 173.8 L471.8 173.4 L472.4 172.7 L472.8 171.8 L473.1 170.9 L473.4 170.0 L474.0 169.2 L474.7 168.7 L475.5 168.2 L476.4 167.8 L477.2 167.3 L477.7 166.6 L478.2 165.8 L478.5 164.8 L478.9 164.0 L479.5 163.3 L480.1 162.8 L480.9 162.2 L481.6 161.6 L482.3 160.9 L482.7 160.1 L482.9 159.2 L483.0 158.2 L483.2 157.3 L483.7 156.5 L484.3 155.8 L485.1 155.3 L485.9 154.8 L486.6 154.1 L487.0 153.3 L487.3 152.4 L487.6 151.5 L487.9 150.6 L488.5 149.9 L489.2 149.3 L490.0 148.9 L490.8 148.3 L491.5 147.7 L491.9 146.9 L492.2 146.0 L492.4 145.0 L492.8 144.2 L493.4 143.5 L494.1 142.9 L494.9 142.4 L495.7 141.9 L496.3 141.2 L496.7 140.4 L497.0 139.4 L497.2 138.5 L497.6 137.7 L498.1 137.0 L498.8 136.4 L499.6 135.8 L500.4 135.2 L500.9 134.5 L501.2 133.6 L501.4 132.6 L501.6 131.7 L501.8 130.8 L502.4 130.1 L503.1 129.5 L503.8 128.9 L504.5 128.2 L505.0 127.4 L505.2 126.5 L505.2 125.5 L505.2 124.5 L505.5 123.7 L505.9 122.9 L506.6 122.2 L507.1 121.4 L507.4 120.5 L507.5 119.6 L507.4 118.7 L507.1 117.8 L506.9 116.8 L506.9 115.9 L507.1 115.0 L507.5 114.2 L508.0 113.3 L508.3 112.4 L508.4 111.5 L508.2 110.6 L507.9 109.7 L507.8 108.7 L507.9 107.8 L508.2 107.0 L508.7 106.2 L509.4 105.8 L510.3 105.5 L511.0 104.9 L511.6 104.5 L512.4 104.0 L513.3 103.5 L514.1 103.2 L515.1 103.2 L516.0 103.3 L516.9 103.4 L517.9 103.3 L518.7 103.0 L519.5 102.4 L520.1 101.7 L520.8 101.0 L521.6 100.6 L522.4 100.4 L523.3 100.1 L524.3 99.8 L525.1 99.4 L525.6 99.0 L526.4 98.4 L527.2 97.8 L528.0 97.3 L528.8 97.1 L529.8 97.0 L530.7 97.1 L531.7 97.0 L532.6 96.8 L533.3 96.3 L534.0 95.7 L534.7 94.9 L535.1 94.2 L535.6 93.6 L536.4 93.0 L537.3 92.6 L538.1 92.1 L538.8 91.5 L539.3 90.8 L539.7 89.9 L540.1 89.0 L540.6 88.3 L541.3 87.7 L542.2 87.4 L543.1 87.1 L543.9 86.9 L544.8 86.7 L545.6 86.3 L546.4 85.6 L547.1 85.0 L547.8 84.6 L548.6 84.2 L549.6 84.0 L550.5 83.9 L551.5 83.8 L552.3 83.5 L552.8 82.3 L552.8 81.4 L552.7 80.4 L552.8 79.5 L553.2 78.7 L553.9 77.9 L554.7 77.3 L555.4 76.7 L555.9 76.0 L556.1 75.4 L556.8 74.7 L557.5 74.0 L558.3 73.5 L559.2 73.3 L560.1 73.3 L561.1 73.3 L562.0 73.3 L562.9 73.1 L563.9 72.5 L564.1 71.5 L564.4 70.6 L564.8 69.8 L565.4 69.2 L566.2 68.6 L567.0 68.1 L567.8 67.5 L568.3 66.8 L568.7 66.1 L569.1 65.2 L569.5 64.3 L570.2 63.6 L571.0 63.2 L571.9 62.9 L572.9 62.7 L573.7 62.3 L574.4 61.8 L575.0 61.0 L575.5 60.2 L576.1 59.4 L576.9 58.9 L577.8 58.7 L578.7 58.6 L579.7 58.5 L579.5 58.4 L579.5 59.3 L579.6 60.2 L580.0 61.1 L580.4 62.0 L580.5 62.9 L580.5 63.8 L580.2 64.7 L579.8 65.6 L579.5 66.5 L579.5 67.4 L579.7 68.3 L580.0 69.2 L580.4 70.1 L580.5 71.0 L580.4 71.9 L580.1 72.8 L579.8 73.7 L579.5 74.6 L579.5 75.5 L579.7 76.4 L580.1 77.3 L580.4 78.2 L580.5 79.1 L580.4 80.0 L580.1 80.9 L579.7 81.8 L579.5 82.7 L579.5 83.6 L579.8 84.5 L580.1 85.4 L580.4 86.3 L580.5 87.2 L580.4 88.1 L580.0 89.0 L579.7 89.9 L579.5 90.8 L579.5 91.7 L579.8 92.6 L580.2 93.5 L580.5 94.4 L580.5 95.3 L580.4 96.2 L580.0 97.1 L579.6 98.0 L579.5 98.9 L579.5 99.8 L579.8 100.7 L580.2 101.6 L580.5 102.5 L580.5 103.4 L580.3 104.3 L580.0 105.2 L579.6 106.1 L579.5 107.0 L579.6 107.9 L579.9 108.8 L580.2 109.7 L579.4 110.5 L578.5 110.5 L577.6 110.4 L576.7 110.0 L575.8 109.7 L574.8 109.6 L574.0 109.7 L573.1 110.1 L572.2 110.6 L571.4 111.0 L570.8 111.3 L569.9 111.5 L568.9 111.7 L567.8 112.1 L567.6 113.0 L567.6 113.9 L567.8 114.8 L568.1 115.8 L568.1 116.7 L567.9 117.6 L567.5 118.4 L566.9 119.2 L566.4 120.0 L566.0 120.8 L565.5 121.2 L565.0 122.0 L564.6 122.9 L564.0 123.6 L563.3 124.2 L562.6 124.6 L561.7 125.0 L560.9 125.5 L560.2 126.2 L559.8 126.9 L559.5 127.9 L559.2 128.8 L558.8 129.6 L558.3 130.3 L557.5 130.9 L556.7 131.4 L555.9 131.9 L555.4 132.8 L555.2 133.7 L555.3 134.7 L555.3 135.7 L555.2 136.6 L554.8 137.5 L554.1 138.1 L553.3 138.7 L552.6 139.3 L552.1 140.0 L551.7 140.8 L551.4 141.7 L551.0 142.6 L550.5 143.3 L549.8 143.9 L549.0 144.4 L548.1 144.8 L547.3 145.3 L546.7 145.9 L546.3 146.8 L546.0 147.7 L545.7 148.6 L545.2 149.4 L544.8 149.9 L544.2 150.7 L543.6 151.5 L543.2 152.3 L542.9 153.1 L542.9 154.1 L543.0 155.0 L543.1 156.0 L542.4 156.9 L541.7 157.4 L540.8 157.7 L539.8 158.0 L539.0 158.4 L538.3 159.0 L537.8 159.8 L537.4 160.7 L537.1 161.6 L536.6 162.4 L535.9 163.0 L535.1 163.4 L534.2 163.9 L533.5 164.5 L533.1 165.4 L533.0 166.4 L533.0 167.3 L532.9 168.3 L532.7 169.2 L532.1 169.9 L531.5 170.6 L530.8 171.3 L530.3 172.1 L530.0 172.9 L530.0 173.9 L529.6 174.7 L529.0 175.4 L528.2 175.9 L527.4 176.1 L526.6 176.5 L525.7 176.9 L524.9 177.4 L524.5 178.5 L524.7 179.4 L524.9 180.4 L525.0 181.3 L524.9 182.2 L524.3 183.1 L523.5 183.7 L522.7 184.3 L522.1 185.0 L521.8 185.6 L521.3 186.4 L520.8 187.3 L520.3 188.1 L519.6 188.6 L518.8 189.0 L517.8 189.3 L516.9 189.6 L516.1 190.0 L515.5 190.7 L515.0 191.5 L514.4 192.2 L513.8 192.9 L513.0 193.4 L512.1 193.6 L511.1 193.6 L510.2 193.4 L509.3 193.4 L508.5 193.6 L507.6 193.9 L506.6 194.2 L505.7 194.3 L504.8 194.2 L504.0 194.0 L503.1 193.9 L502.1 193.8 L501.2 193.9 L500.4 194.3 L499.6 194.8 L498.8 195.4 L498.0 195.8 L497.1 196.0 L496.2 196.0 L495.2 195.9 L494.3 195.8 L493.3 196.1 L492.6 196.7 L492.0 197.4 L491.3 198.2 L490.6 198.8 L489.8 199.1 L488.8 199.2 L487.8 199.2 L486.9 199.3 L486.1 199.7 L485.4 200.3 L484.7 201.0 L484.1 201.7 L483.6 202.4 L482.9 202.9 L482.0 203.3 L481.1 203.7 L480.3 204.2 L479.7 204.8 L479.2 205.7 L478.9 206.6 L478.6 207.5 L478.1 208.2 L477.4 208.8 L476.5 209.3 L475.7 209.7 L474.9 210.2 L474.3 210.9 L473.9 211.7 L473.5 212.6 L473.1 213.4 L472.5 214.1 L471.7 214.6 L470.8 215.0 L469.9 215.4 L469.2 215.9 L468.6 216.6 L468.1 217.4 L467.7 218.3 L467.3 219.1 L466.7 219.8 L466.0 220.3 L465.1 220.7 L464.2 221.2 L463.5 221.8 L463.0 222.5 L462.7 223.4 L462.4 224.3 L462.0 225.2 L461.5 225.9 L460.8 226.5 L459.9 226.9 L458.9 227.1 L458.1 227.4 L457.3 227.9 L456.7 228.6 L456.1 229.4 L455.4 230.1 L454.6 230.5 L453.7 230.7 L452.8 230.8 L451.8 230.9 L450.9 231.3 L450.3 232.0 L449.8 232.8 L449.4 233.7 L448.8 234.4 L448.1 235.0 L447.3 235.4 L446.4 235.8 L445.6 236.3 L444.9 236.9 L444.5 237.7 L444.1 238.6 L443.8 239.5 L443.4 240.3 L442.7 241.0 L441.9 241.4 L441.0 241.8 L440.1 242.2 L439.5 242.8 L438.9 243.5 L438.6 244.4 L438.1 245.3 L437.5 246.0 L436.8 246.5 L435.9 246.9 L435.0 247.2 L434.1 247.5 L433.4 248.1 L432.9 248.8 L432.4 249.7 L432.0 250.6 L431.4 251.3 L430.7 251.8 L429.9 252.2 L429.1 252.8 L428.4 253.4 L428.0 254.2 L427.7 255.1 L427.6 256.1 L427.2 257.0 L426.6 257.7 L425.8 258.2 L424.9 258.5 L424.0 258.7 L423.3 258.8 L422.4 259.0 L421.5 259.4 L420.7 259.9 L419.9 260.3 L419.0 260.6 L418.6 260.8 L417.8 261.4 L417.0 261.9 L416.3 262.5 L415.8 263.2 L415.5 264.1 L415.3 265.1 L414.8 265.9 L414.2 266.6 L413.4 267.1 L412.5 267.4 L411.5 267.7 L410.7 268.1 L410.1 268.7 L409.5 269.5 L409.1 270.4 L408.6 271.2 L408.0 271.8 L407.2 272.3 L406.3 272.6 L405.4 272.9 L404.5 273.4 L404.0 274.1 L403.6 275.0 L403.2 275.9 L402.8 276.7 L402.2 277.4 L401.5 277.9 L400.6 278.3 L399.8 278.7 L398.9 279.0 L398.2 279.6 L397.6 280.4 L397.1 281.2 L396.5 281.9 L395.7 282.4 L394.8 282.7 L393.9 282.9 L392.9 283.1 L392.1 283.6 L391.6 284.3 L391.2 285.2 L390.8 286.1 L390.3 286.9 L389.7 287.6 L388.9 288.0 L388.0 288.5 L387.2 289.0 L386.6 289.7 L386.2 290.5 L385.9 291.4 L385.7 292.3 L385.3 293.2 L384.8 293.9 L383.7 294.2 L382.7 294.2 L381.7 294.3 L380.9 294.5 L380.1 295.1 L379.4 295.7 L378.8 296.5 L378.1 297.1 L377.3 297.5 L376.4 297.7 L375.4 297.8 L374.5 298.0 L373.6 298.7 L373.3 299.5 L373.0 300.5 L372.8 301.4 L372.4 302.2 L371.8 302.9 L371.1 303.5 L370.2 304.0 L369.5 304.5 L368.8 305.1 L368.4 305.9 L368.0 306.8 L367.6 307.6 L367.0 308.4 L366.3 308.9 L365.4 309.3 L364.5 309.7 L363.7 310.1 L363.1 310.6 L362.4 311.3 L361.9 312.1 L361.3 312.9 L360.6 313.5 L359.8 313.8 L359.0 314.1 L358.1 314.5 L357.3 315.0 L356.6 315.9 L356.6 316.9 L356.8 317.8 L356.8 318.8 L356.7 319.7 L356.3 320.5 L355.5 321.2 L354.6 321.6 L353.8 322.0 L353.2 322.7 L352.8 323.5 L352.1 324.2 L351.4 324.7 L350.6 325.1 L349.7 325.3 L348.7 325.3 L347.7 325.2 L346.7 325.6 L346.1 326.2 L345.6 327.1 L345.3 328.0 L344.8 328.8 L344.3 329.5 L343.5 330.0 L342.7 330.5 L341.8 330.9 L341.1 331.5 L340.6 332.3 L340.3 333.2 L340.0 334.1 L339.6 334.9 L339.0 335.6 L338.3 336.2 L337.4 336.6 L336.6 337.1 L335.9 337.7 L335.4 338.4 L335.0 339.3 L334.6 340.2 L334.1 341.0 L333.5 341.6 L332.6 342.0 L331.7 342.4 L330.8 342.7 L330.1 343.3 L329.5 344.0 L329.1 344.9 L328.8 345.8 L328.3 346.6 L327.7 347.2 L326.9 347.7 L326.0 348.1 L325.1 348.5 L324.4 349.1 L323.9 349.8 L323.5 350.7 L323.2 351.6 L322.7 352.4 L322.0 353.0 L321.2 353.5 L320.3 353.8 L319.5 354.2 L318.7 354.8 L318.2 355.5 L317.8 356.4 L317.3 357.3 L316.8 358.0 L316.0 358.5 L315.2 358.9 L314.3 359.3 L313.4 359.7 L312.8 360.4 L312.3 361.2 L312.0 362.1 L311.6 363.0 L311.1 363.7 L310.4 364.3 L309.5 364.7 L308.6 365.1 L307.8 365.5 L307.2 366.1 L306.7 366.9 L306.3 367.8 L305.9 368.7 L305.3 369.4 L304.5 369.9 L303.7 370.3 L302.8 370.6 L301.9 371.1 L301.3 371.7 L300.9 372.6 L300.5 373.5 L300.1 374.3 L299.6 375.0 L298.9 375.6 L298.0 376.1 L297.1 376.5 L296.4 377.1 L295.9 377.8 L295.5 378.7 L295.2 379.6 L294.7 380.4 L294.1 381.1 L293.3 381.5 L292.4 381.9 L291.5 382.2 L290.7 382.7 L290.1 383.4 L289.6 384.2 L289.2 385.1 L288.7 385.9 L288.1 386.5 L287.2 386.9 L286.3 387.2 L285.4 387.6 L284.7 388.1 L284.1 388.8 L283.6 389.6 L283.2 390.5 L282.7 391.3 L282.0 391.8 L281.1 392.3 L280.2 392.6 L279.3 392.9 L278.5 393.3 L277.9 393.9 L277.4 394.8 L276.9 395.6 L276.3 396.3 L275.5 396.8 L274.7 397.2 L273.8 397.5 L273.0 398.0 L272.3 398.5 L271.7 399.3 L271.3 400.2 L271.0 401.0 L270.5 401.8 L269.9 402.4 L269.1 403.0 L268.3 403.4 L267.5 404.0 L266.9 404.6 L266.4 405.2 L265.9 406.0 L265.3 406.8 L264.7 407.5 L263.9 407.9 L262.9 408.2 L261.9 408.2 L261.0 408.4 L260.2 408.7 L259.5 409.5 L259.1 410.3 L258.6 411.2 L258.1 411.9 L257.3 412.5 L256.5 412.8 L255.6 413.2 L254.7 413.6 L254.1 414.2 L253.6 415.0 L253.2 415.9 L252.7 416.7 L252.2 417.5 L251.4 418.0 L250.5 418.3 L249.6 418.7 L248.8 419.1 L248.2 419.8 L247.7 420.6 L247.3 421.5 L246.9 422.4 L246.3 423.1 L245.6 423.6 L244.7 424.0 L243.8 424.3 L243.0 424.8 L242.4 425.5 L242.0 426.3 L241.6 427.2 L241.1 428.1 L240.5 428.7 L239.8 429.2 L238.9 429.6 L238.0 430.0 L237.3 430.6 L236.7 431.3 L236.3 432.2 L236.0 433.1 L235.6 433.9 L234.9 434.6 L234.1 435.0 L233.1 435.3 L232.2 435.6 L231.4 436.1 L230.8 436.7 L230.3 437.6 L230.0 438.4 L229.5 439.3 L228.9 439.9 L228.1 440.4 L227.3 440.9 L226.4 441.3 L225.7 441.9 L225.2 442.6 L224.8 443.5 L224.5 444.4 L224.1 445.3 L223.4 445.9 L222.6 446.4 L221.7 446.7 L220.9 447.2 L220.2 447.8 L219.7 448.5 L219.3 449.4 L218.9 450.3 L218.4 451.1 L217.7 451.7 L216.9 452.1 L216.0 452.5 L215.2 452.9 L214.5 453.5 L214.0 454.3 L213.6 455.2 L213.2 456.1 L212.7 456.8 L212.0 457.4 L211.1 457.8 L210.2 458.2 L209.4 458.6 L208.8 459.3 L208.3 460.1 L208.0 461.0 L207.6 461.9 L207.1 462.7 L206.5 463.3 L205.6 463.7 L204.7 464.1 L203.9 464.6 L203.3 465.2 L202.8 465.9 L202.3 466.8 L201.9 467.7 L201.3 468.3 L200.5 468.8 L199.5 469.1 L198.6 469.2 L197.7 469.5 L196.9 470.0 L196.3 470.7 L195.7 471.5 L195.1 472.2 L194.3 472.8 L193.4 472.9 L192.4 472.9 L191.4 472.8 L190.5 472.9 L190.4 473.3 L189.8 472.6 L189.0 472.0 L188.4 471.3 L188.3 470.1 L188.7 469.3 L189.4 468.6 L190.0 467.9 L190.5 467.4 L191.2 466.9 L191.8 466.1 L192.3 465.3 L192.8 464.5 L193.4 463.8 L194.2 463.4 L195.1 463.1 L196.1 462.8 L196.9 462.4 L197.6 461.8 L198.1 461.1 L198.6 460.2 L199.1 459.4 Z" fill="none" stroke="#fff" stroke-width="2.2" stroke-linejoin="round"/>
<polyline points="176.0,486.0 178.5,480.0 182.0,476.6 185.7,475.1 187.2,477.2 187.6,480.5 187.3,486.0" fill="none" stroke="#fff" stroke-width="2.2" stroke-linejoin="round"/>
</g>
<g clip-path="url(#pc)">
<polygon points="479.5,484.0 476.0,470.0 484.6,452.0 485.2,449.2 486.5,448.3 539.6,430.4 541.4,430.6 542.4,432.2 542.2,434.0 545.0,435.6 556.3,433.9 558.0,434.5 558.6,436.2 558.5,437.8 571.5,436.8 575.0,436.8 575.0,484.0" fill="#fff"/>
<path d="M492 447.5L542.6 433.6 M504 445.5L558.8 437.4 M515 445L575 439.2 M530 444.5L575 443.2 M540 445L575 447.2 M546 446.5L575 451.2" stroke="#000" stroke-width="1.1" fill="none"/>
<rect x="0" y="0" width="17.5" height="60" rx="2.2" transform="translate(471.10,455.80) rotate(-16.30)" fill="#fff" stroke="#000" stroke-width="1.35"/>
<text x="0" y="0" text-anchor="middle" transform="translate(479.20,466.20) rotate(-16.30)" font-family="Liberation Serif" font-size="12.5" font-weight="bold" fill="#000">G</text>
<text x="0" y="0" text-anchor="middle" transform="translate(482.80,476.60) rotate(-16.30)" font-family="Liberation Serif" font-size="13" fill="#000">♠</text>
<rect x="0" y="0" width="17.5" height="60" rx="2.2" transform="translate(484.30,450.10) rotate(-11.20)" fill="#fff" stroke="#000" stroke-width="1.35"/>
<text x="0" y="0" text-anchor="middle" transform="translate(492.10,463.30) rotate(-11.20)" font-family="Liberation Serif" font-size="12.5" font-weight="bold" fill="#000">A</text>
<text x="0" y="0" text-anchor="middle" transform="translate(493.90,472.70) rotate(-11.20)" font-family="Liberation Serif" font-size="13" fill="#000">♣</text>
<rect x="0" y="0" width="17.5" height="60" rx="2.2" transform="translate(497.40,446.60) rotate(-5.50)" fill="#fff" stroke="#000" stroke-width="1.35"/>
<text x="0" y="0" text-anchor="middle" transform="translate(504.20,459.60) rotate(-5.50)" font-family="Liberation Serif" font-size="12.5" font-weight="bold" fill="#000">M</text>
<text x="0" y="0" text-anchor="middle" transform="translate(505.70,470.50) rotate(-5.50)" font-family="Liberation Serif" font-size="13" fill="#000">♠</text>
<rect x="0" y="0" width="17.5" height="60" rx="2.2" transform="translate(512.50,445.00) rotate(-0.50)" fill="#fff" stroke="#000" stroke-width="1.35"/>
<text x="0" y="0" text-anchor="middle" transform="translate(518.40,458.90) rotate(-0.50)" font-family="Liberation Serif" font-size="12.5" font-weight="bold" fill="#d00">B</text>
<text x="0" y="0" text-anchor="middle" transform="translate(517.80,468.80) rotate(-0.50)" font-family="Liberation Serif" font-size="13" fill="#d00">♥</text>
<rect x="0" y="0" width="17.5" height="60" rx="2.2" transform="translate(525.10,445.00) rotate(5.30)" fill="#fff" stroke="#000" stroke-width="1.35"/>
<text x="0" y="0" text-anchor="middle" transform="translate(529.20,458.70) rotate(5.30)" font-family="Liberation Serif" font-size="12.5" font-weight="bold" fill="#d00">I</text>
<text x="0" y="0" text-anchor="middle" transform="translate(529.50,469.60) rotate(5.30)" font-family="Liberation Serif" font-size="13" fill="#d00">♦</text>
<rect x="0" y="0" width="17.5" height="60" rx="2.2" transform="translate(537.40,446.20) rotate(9.10)" fill="#fff" stroke="#000" stroke-width="1.35"/>
<text x="0" y="0" text-anchor="middle" transform="translate(542.00,460.40) rotate(9.10)" font-family="Liberation Serif" font-size="12.5" font-weight="bold" fill="#d00">T</text>
<text x="0" y="0" text-anchor="middle" transform="translate(541.20,470.80) rotate(9.10)" font-family="Liberation Serif" font-size="13" fill="#d00">♥</text>
<rect x="0" y="0" width="30" height="60" rx="2.2" transform="translate(550.20,448.50) rotate(15.10)" fill="#fff" stroke="#000" stroke-width="1.35"/>
<text x="0" y="0" text-anchor="middle" transform="translate(555.00,462.90) rotate(15.10)" font-family="Liberation Serif" font-size="12.5" font-weight="bold" font-style="italic" fill="#000">C</text>
<text x="0" y="0" text-anchor="middle" transform="translate(551.30,473.40) rotate(15.10)" font-family="Liberation Serif" font-size="13" fill="#000">♠</text>
</g>
<path d="M177.80 483v-19 M177.80 22v19 M374.95 483v-19 M374.95 22v19 M134.06 483v-9.5 M134.06 22v9.5 M147.26 483v-9.5 M147.26 22v9.5 M158.69 483v-9.5 M158.69 22v9.5 M168.78 483v-9.5 M168.78 22v9.5 M237.15 483v-9.5 M237.15 22v9.5 M271.86 483v-9.5 M271.86 22v9.5 M296.50 483v-9.5 M296.50 22v9.5 M315.60 483v-9.5 M315.60 22v9.5 M331.21 483v-9.5 M331.21 22v9.5 M344.41 483v-9.5 M344.41 22v9.5 M355.84 483v-9.5 M355.84 22v9.5 M365.93 483v-9.5 M365.93 22v9.5 M434.30 483v-9.5 M434.30 22v9.5 M469.01 483v-9.5 M469.01 22v9.5 M493.65 483v-9.5 M493.65 22v9.5 M512.75 483v-9.5 M512.75 22v9.5 M528.36 483v-9.5 M528.36 22v9.5 M541.56 483v-9.5 M541.56 22v9.5 M552.99 483v-9.5 M552.99 22v9.5 M563.08 483v-9.5 M563.08 22v9.5 M119 423.40h19 M571 423.40h-19 M119 222.45h19 M571 222.45h-19 M119 467.98h9.5 M571 467.98h-9.5 M119 454.53h9.5 M571 454.53h-9.5 M119 442.87h9.5 M571 442.87h-9.5 M119 432.59h9.5 M571 432.59h-9.5 M119 362.91h9.5 M571 362.91h-9.5 M119 327.52h9.5 M571 327.52h-9.5 M119 302.42h9.5 M571 302.42h-9.5 M119 282.94h9.5 M571 282.94h-9.5 M119 267.03h9.5 M571 267.03h-9.5 M119 253.58h9.5 M571 253.58h-9.5 M119 241.92h9.5 M571 241.92h-9.5 M119 231.64h9.5 M571 231.64h-9.5 M119 161.96h9.5 M571 161.96h-9.5 M119 126.57h9.5 M571 126.57h-9.5 M119 101.47h9.5 M571 101.47h-9.5 M119 81.99h9.5 M571 81.99h-9.5 M119 66.08h9.5 M571 66.08h-9.5 M119 52.63h9.5 M571 52.63h-9.5 M119 40.97h9.5 M571 40.97h-9.5 M119 30.69h9.5 M571 30.69h-9.5" stroke="#fff" stroke-width="1.8" fill="none"/>
<rect x="582.5" y="38.1" width="28.600000000000023" height="428.5" rx="1.2" fill="url(#cb)" stroke="#000" stroke-width="2.7"/>
<path d="M611.1 41.83h-9 M611.1 67.45h-9 M611.1 93.08h-9 M611.1 118.70h-19 M611.1 144.32h-9 M611.1 169.95h-9 M611.1 195.57h-9 M611.1 221.20h-19 M611.1 246.82h-9 M611.1 272.45h-9 M611.1 298.07h-9 M611.1 323.70h-19 M611.1 349.32h-9 M611.1 374.95h-9 M611.1 400.57h-9 M611.1 426.20h-19 M611.1 451.82h-9" stroke="#000" stroke-width="1.8" fill="none"/>
<text x="614.79" y="126.00" font-family="Liberation Serif" font-size="22.5" fill="#000" textLength="17.09" lengthAdjust="spacingAndGlyphs" >−</text>
<text x="631.35" y="126.00" font-family="Liberation Serif" font-size="22.5" fill="#000" textLength="12.21" lengthAdjust="spacingAndGlyphs" >1</text>
<text x="614.79" y="228.50" font-family="Liberation Serif" font-size="22.5" fill="#000" textLength="17.09" lengthAdjust="spacingAndGlyphs" >−</text>
<text x="632.54" y="228.50" font-family="Liberation Serif" font-size="22.5" fill="#000" textLength="10.98" lengthAdjust="spacingAndGlyphs" >2</text>
<text x="614.79" y="331.00" font-family="Liberation Serif" font-size="22.5" fill="#000" textLength="17.09" lengthAdjust="spacingAndGlyphs" >−</text>
<text x="632.48" y="331.00" font-family="Liberation Serif" font-size="22.5" fill="#000" textLength="10.65" lengthAdjust="spacingAndGlyphs" >3</text>
<text x="614.79" y="433.50" font-family="Liberation Serif" font-size="22.5" fill="#000" textLength="17.09" lengthAdjust="spacingAndGlyphs" >−</text>
<text x="633.13" y="433.50" font-family="Liberation Serif" font-size="22.5" fill="#000" textLength="9.47" lengthAdjust="spacingAndGlyphs" >4</text>
<text x="157.02" y="521.80" font-family="Liberation Serif" font-size="27.5" fill="#000" textLength="28.26" lengthAdjust="spacingAndGlyphs" >10</text>
<text x="185.17" y="511.90" font-family="Liberation Serif" font-size="19.5" fill="#000" textLength="11.72" lengthAdjust="spacingAndGlyphs" >2</text>
<text x="354.17" y="521.80" font-family="Liberation Serif" font-size="27.5" fill="#000" textLength="28.26" lengthAdjust="spacingAndGlyphs" >10</text>
<text x="382.26" y="511.90" font-family="Liberation Serif" font-size="19.5" fill="#000" textLength="11.38" lengthAdjust="spacingAndGlyphs" >3</text>
<text x="551.32" y="521.80" font-family="Liberation Serif" font-size="27.5" fill="#000" textLength="28.26" lengthAdjust="spacingAndGlyphs" >10</text>
<text x="580.11" y="511.90" font-family="Liberation Serif" font-size="19.5" fill="#000" textLength="10.11" lengthAdjust="spacingAndGlyphs" >4</text>
<text x="58.56" y="33.20" font-family="Liberation Serif" font-size="27.5" fill="#000" textLength="28.95" lengthAdjust="spacingAndGlyphs" >10</text>
<text x="88.21" y="22.90" font-family="Liberation Serif" font-size="19.5" fill="#000" textLength="10.00" lengthAdjust="spacingAndGlyphs" >4</text>
<text x="58.56" y="234.15" font-family="Liberation Serif" font-size="27.5" fill="#000" textLength="28.95" lengthAdjust="spacingAndGlyphs" >10</text>
<text x="87.52" y="223.85" font-family="Liberation Serif" font-size="19.5" fill="#000" textLength="11.26" lengthAdjust="spacingAndGlyphs" >3</text>
<text x="58.56" y="435.10" font-family="Liberation Serif" font-size="27.5" fill="#000" textLength="28.95" lengthAdjust="spacingAndGlyphs" >10</text>
<text x="87.58" y="424.80" font-family="Liberation Serif" font-size="19.5" fill="#000" textLength="11.60" lengthAdjust="spacingAndGlyphs" >2</text>
<text x="191.44" y="550.70" font-family="Liberation Serif" font-size="28" fill="#000" textLength="109.12" lengthAdjust="spacingAndGlyphs" >Mediator</text>
<text x="312.89" y="550.70" font-family="Liberation Serif" font-size="28" fill="#000" textLength="58.57" lengthAdjust="spacingAndGlyphs" >mass</text>
<text x="379.61" y="550.70" font-family="Liberation Serif" font-size="28" font-style="italic" fill="#000" textLength="27.81" lengthAdjust="spacingAndGlyphs" stroke="#fff" stroke-width="0.45">m</text>
<text x="406.40" y="554.30" font-family="Liberation Serif" font-size="19.6" fill="#000" textLength="18.62" lengthAdjust="spacingAndGlyphs" >M</text>
<text x="426.43" y="552.90" font-family="Liberation Serif" font-size="33" fill="#000" textLength="8.82" lengthAdjust="spacingAndGlyphs" >[</text>
<text x="434.41" y="550.70" font-family="Liberation Serif" font-size="28" fill="#000" textLength="54.82" lengthAdjust="spacingAndGlyphs" >GeV</text>
<text x="489.32" y="552.90" font-family="Liberation Serif" font-size="33" fill="#000" textLength="8.08" lengthAdjust="spacingAndGlyphs" >]</text>
<g transform="rotate(-90)">
<text x="-436.77" y="21.30" font-family="Liberation Serif" font-size="28" fill="#000" textLength="60.07" lengthAdjust="spacingAndGlyphs" >Dark</text>
<text x="-368.68" y="21.30" font-family="Liberation Serif" font-size="28" fill="#000" textLength="82.56" lengthAdjust="spacingAndGlyphs" >matter</text>
<text x="-275.40" y="21.30" font-family="Liberation Serif" font-size="28" fill="#000" textLength="57.54" lengthAdjust="spacingAndGlyphs" >mass</text>
<text x="-207.37" y="21.30" font-family="Liberation Serif" font-size="28" font-style="italic" fill="#000" textLength="27.36" lengthAdjust="spacingAndGlyphs" stroke="#fff" stroke-width="0.45">m</text>
<text x="-179.92" y="24.40" font-family="Liberation Serif" font-size="19.6" font-style="italic" fill="#000" textLength="38.78" lengthAdjust="spacingAndGlyphs" stroke="#fff" stroke-width="0.35">DM</text>
<text x="-137.60" y="23.50" font-family="Liberation Serif" font-size="33" fill="#000" textLength="8.08" lengthAdjust="spacingAndGlyphs" >[</text>
<text x="-130.57" y="21.30" font-family="Liberation Serif" font-size="28" fill="#000" textLength="53.89" lengthAdjust="spacingAndGlyphs" >GeV</text>
<text x="-76.89" y="23.50" font-family="Liberation Serif" font-size="33" fill="#000" textLength="8.23" lengthAdjust="spacingAndGlyphs" >]</text>
</g>
<text x="284.77" y="16.60" font-family="Liberation Serif" font-size="21.5" fill="#000" textLength="68.90" lengthAdjust="spacingAndGlyphs" >Capped</text>
<text x="377.71" y="19.50" font-family="Liberation Serif" font-size="15.2" fill="#000" textLength="34.24" lengthAdjust="spacingAndGlyphs" >LHC</text>
<text x="413.96" y="16.60" font-family="Liberation Serif" font-size="21.5" fill="#000" textLength="4.87" lengthAdjust="spacingAndGlyphs" >,</text>
<text x="424.95" y="16.60" font-family="Liberation Serif" font-size="21.5" fill="#000" textLength="17.89" lengthAdjust="spacingAndGlyphs" >Ω</text>
<text x="441.72" y="19.50" font-family="Liberation Serif" font-size="15.2" fill="#000" textLength="26.66" lengthAdjust="spacingAndGlyphs" >DM</text>
<text x="476.00" y="17.10" font-family="Liberation Serif" font-size="21.5" fill="#000" textLength="15.92" lengthAdjust="spacingAndGlyphs" >≤</text>
<text x="497.08" y="16.60" font-family="Liberation Serif" font-size="21.5" fill="#000" textLength="17.54" lengthAdjust="spacingAndGlyphs" >Ω</text>
<text x="514.10" y="19.50" font-family="Liberation Serif" font-size="15.2" fill="#000" textLength="56.02" lengthAdjust="spacingAndGlyphs" >DM,obs</text>
<path d="M374.3 4.6C375.3 3 374.2 1.7 372.2 1.9C369.8 2.2 368.6 5.6 367.4 9C366.5 11.6 365.4 14.4 363.6 16.5" fill="none" stroke="#000" stroke-width="1.25" stroke-linecap="round"/>
<path d="M370.6 3.2C369.4 5 368.6 7.5 367.6 10.5C366.9 12.6 366 14.6 364.6 16" fill="none" stroke="#000" stroke-width="1.3" stroke-linecap="round"/>
<path d="M363.6 16.5C365.4 15.1 367.4 16.2 369.8 16.5C372.4 16.9 374.8 16 376.2 13.4" fill="none" stroke="#000" stroke-width="1.2" stroke-linecap="round"/>
<circle cx="374.1" cy="4.9" r="1.15" fill="#000"/>
<text x="314.19" y="399.70" font-family="Liberation Serif" font-size="28" fill="#fff" textLength="112.90" lengthAdjust="spacingAndGlyphs" >s-channel</text>
<text x="316.60" y="427.00" font-family="Liberation Serif" font-size="28" fill="#fff" textLength="192.66" lengthAdjust="spacingAndGlyphs" >vector-mediated</text>
<text x="315.74" y="453.60" font-family="Liberation Serif" font-size="28" fill="#fff" textLength="121.33" lengthAdjust="spacingAndGlyphs" >Dirac DM</text>
<g transform="rotate(90)">
<text x="198.67" y="-665.00" font-family="Liberation Serif" font-size="22.5" fill="#000" textLength="27.23" lengthAdjust="spacingAndGlyphs" >log</text>
<text x="226.63" y="-659.00" font-family="Liberation Serif" font-size="15.5" fill="#000" textLength="17.85" lengthAdjust="spacingAndGlyphs" >10</text>
<text x="262.26" y="-657.70" font-family="Liberation Serif" font-size="15.6" font-style="italic" fill="#000" textLength="16.71" lengthAdjust="spacingAndGlyphs" >m</text>
<text x="279.38" y="-655.20" font-family="Liberation Serif" font-size="11.5" font-style="italic" fill="#000" textLength="12.81" lengthAdjust="spacingAndGlyphs" >M</text>
<text x="273.70" y="-673.80" font-family="Liberation Serif" font-size="16.5" fill="#000" textLength="14.09" lengthAdjust="spacingAndGlyphs" >Γ</text>
<path d="M262.3 -671h32.6" stroke="#000" stroke-width="1.3"/>
<path d="M258.6 -657.6C253.4 -662 253.4 -679.6 258.6 -684.4" stroke="#000" stroke-width="1.25" fill="none"/>
<path d="M297.9 -657.6C303.1 -662 303.1 -679.6 297.9 -684.4" stroke="#000" stroke-width="1.25" fill="none"/>
</g>
</svg>
</body></html>
